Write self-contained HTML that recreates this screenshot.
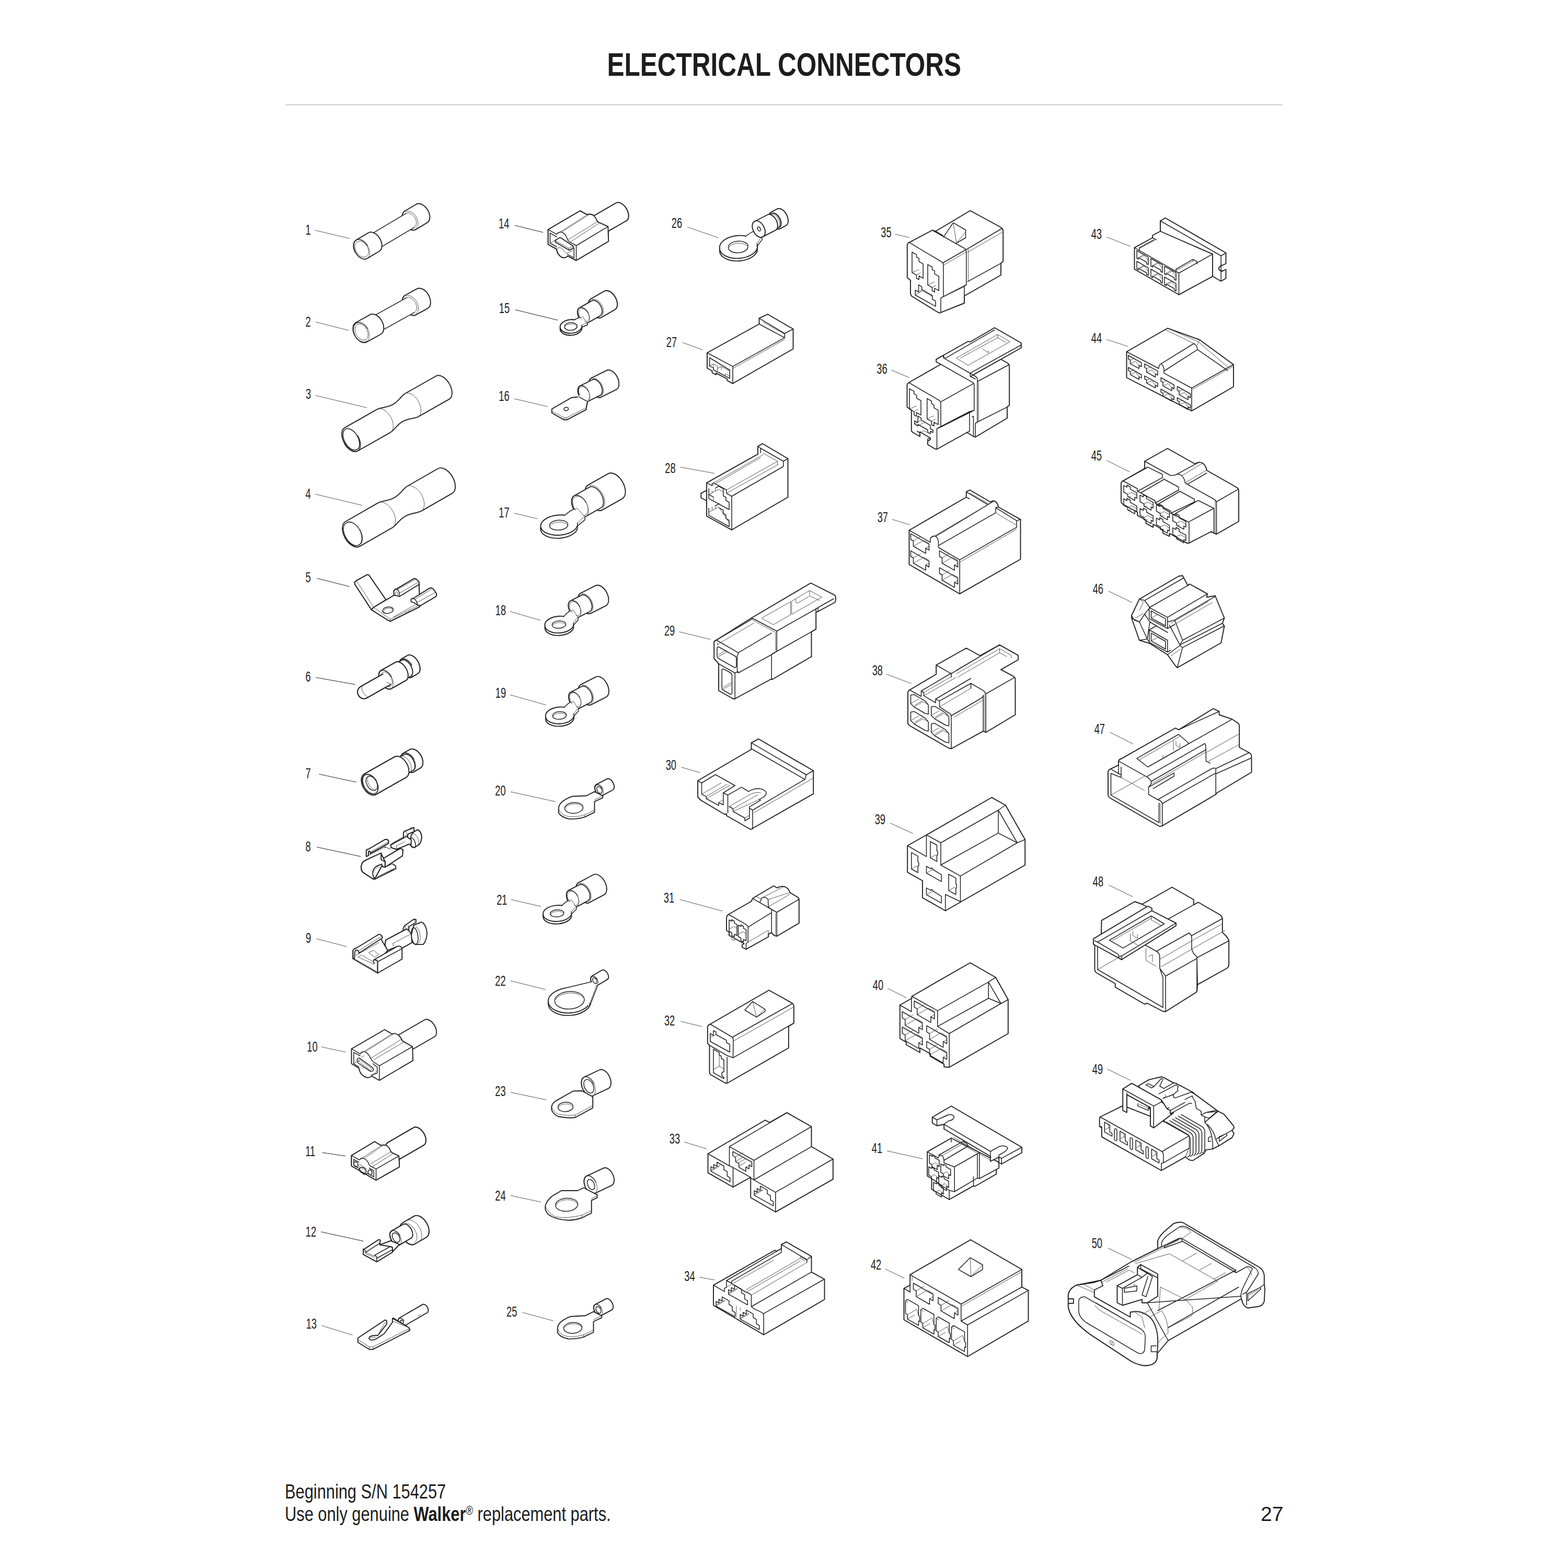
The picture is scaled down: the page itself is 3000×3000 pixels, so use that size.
<!DOCTYPE html>
<html lang="en">
<head>
<meta charset="utf-8">
<title>Electrical Connectors</title>
<style>
html,body{margin:0;padding:0;background:#fff;}
body{width:3000px;height:3000px;position:relative;overflow:hidden;font-family:"Liberation Sans",sans-serif;color:#1d1d1d;}
h1{position:absolute;left:0;top:92.2px;width:3001.5px;margin:0;text-align:center;font-size:62.6px;line-height:1;font-weight:bold;white-space:nowrap;}
h1 span{display:inline-block;transform:scaleX(0.791);transform-origin:50% 50%;}
hr{position:absolute;left:546px;top:199.7px;width:1908px;height:1.4px;margin:0;border:0;background:#a6a6a6;}
.foot{position:absolute;left:544.9px;top:2832px;font-size:38.7px;line-height:43px;white-space:nowrap;transform:scaleX(0.796);transform-origin:0 0;}
.pg{position:absolute;right:544.6px;top:2875px;font-size:39px;line-height:43px;white-space:nowrap;}
sup{font-size:60%;line-height:0;vertical-align:baseline;position:relative;top:-0.5em;}
svg{position:absolute;left:0;top:0;}
svg path{fill:none;stroke:#222;stroke-linecap:round;stroke-linejoin:round;}
.k{stroke-width:1.5;}
.kf{stroke-width:1.9;fill:#fff;}
.t{stroke-width:0.9;stroke:#444;}
.tf{stroke-width:0.9;stroke:#444;fill:#fff;}
.w{fill:#fff;stroke:none;}
.l{stroke-width:1;stroke:#555;}
svg path.kf,svg path.tf,svg path.w{fill:#fff;}
svg path.w{stroke:none;}
svg path.t,svg path.tf{stroke:#444;}
svg path.l{stroke:#555;}
svg text{font-family:"Liberation Sans",sans-serif;font-size:28.5px;fill:#222;text-anchor:middle;}
</style>
</head>
<body>
<h1><span>ELECTRICAL CONNECTORS</span></h1>
<hr>
<svg width="3000" height="3000" viewBox="0 0 3000 3000" xmlns="http://www.w3.org/2000/svg">
<g id="art">
<path class="kf" d="M774.5 403.8L796.6 390.7A20.5 13.3 59.2 0 1 817.6 425.9L795.5 439.1A20.5 13.3 59.2 0 1 774.5 403.8Z"/>
<path class="k" d="M774.5 403.8A20.5 13.3 59.2 0 0 795.5 439.1"/>
<path class="t" d="M795.5 437A18.7 12.1 59.2 0 0 776.3 404.9"/>
<path class="w" d="M707.5 449.6L777.1 408.1A15.5 10.1 59.2 0 1 793 434.8L723.4 476.2A15.5 10.1 59.2 0 1 707.5 449.6Z"/>
<path class="k" d="M723.4 476.2L793 434.8M707.5 449.6L777.1 408.1"/>
<path class="t" d="M793 434.8A15.5 10.1 59.2 0 0 777.1 408.1"/>
<path class="kf" d="M681.3 459.4L705 445.3A20.5 13.3 59.2 0 1 726 480.5L702.3 494.6A20.5 13.3 59.2 0 1 681.3 459.4Z"/>
<path class="k" d="M703.3 470.2A20.5 13.3 59.2 0 0 680.4 483.8"/>
<path class="t" d="M680.4 483.8A20.5 13.3 59.2 0 0 703.3 470.2M700.5 490.6A16.2 10.5 59.2 1 0 684 462.9A16.2 10.5 59.2 1 0 700.5 490.6Z"/>
<path class="l" d="M602.8 440.5L668.7 456.3"/>
<path class="kf" d="M775.1 565L797.5 552.7A21.3 13.9 61.1 0 1 818.1 590.1L795.8 602.4A21.3 13.9 61.1 0 1 775.1 565Z"/>
<path class="k" d="M775.1 565A21.3 13.9 61.1 0 0 795.8 602.4"/>
<path class="t" d="M795.8 600.3A19.5 12.7 61.1 0 0 776.9 566.2"/>
<path class="w" d="M710.6 606.8L777.7 569.7A16 10.4 61.1 0 1 793.2 597.7L726.1 634.8A16 10.4 61.1 0 1 710.6 606.8Z"/>
<path class="k" d="M726.1 634.8L793.2 597.7M710.6 606.8L777.7 569.7"/>
<path class="t" d="M793.2 597.7A16 10.4 61.1 0 0 777.7 569.7"/>
<path class="kf" d="M681 617L708 602.1A21.3 13.9 61.1 0 1 728.6 639.5L701.6 654.3A21.3 13.9 61.1 0 1 681 617Z"/>
<path class="k" d="M703.5 629A21.3 13.9 61.1 0 0 679.2 642.4"/>
<path class="t" d="M679.2 642.4A21.3 13.9 61.1 0 0 703.5 629M699.9 650.2A16.8 11 61.1 1 0 683.6 620.7A16.8 11 61.1 1 0 699.9 650.2Z"/>
<path class="l" d="M604.7 616.2L666.7 632"/>
<path class="kf" d="M659 818.6L722 782.9L724.4 782L726.9 781.2L729.4 780.6L732 780L734.6 779.5L737.2 778.9L739.8 778.3L742.3 777.6L744.8 776.9L747.2 776L749.5 774.9L751.8 773.8L754 772.4L756 771L758 769.4L760 767.6L761.9 765.8L763.7 763.9L765.5 762L767.3 760L769.1 758.1L771 756.2L772.9 754.5L775 753L834.2 719.5A25.5 14.9 60.5 0 1 859.3 763.9L800.1 797.4L797.8 798.4L795.3 799.1L792.7 799.8L790.1 800.3L787.5 800.9L784.9 801.4L782.4 802L779.8 802.7L777.3 803.5L774.9 804.4L772.6 805.4L770.4 806.5L768.2 807.9L766.1 809.3L764.1 810.9L762.2 812.7L760.3 814.5L758.5 816.4L756.6 818.3L754.8 820.3L753 822.2L751.1 824.1L749.2 825.8L747.1 827.3L684 863A25.5 14.9 60.5 0 1 659 818.6Z"/>
<path class="t" d="M747.1 827.3A25.5 14.9 60.5 0 0 722 782.9M800.1 797.4A25.5 14.9 60.5 0 0 775 753"/>
<path class="k" d="M658.5 848.2A25.5 14.9 60.5 0 0 684.5 833.5M683.1 860A22.3 13.1 60.5 1 0 661.1 821.1A22.3 13.1 60.5 1 0 683.1 860Z"/>
<path class="l" d="M603.8 756.7L701.7 780"/>
<path class="kf" d="M660.9 998L723.8 961.9L726.3 960.9L728.9 960L731.5 959.4L734.2 958.7L736.9 958.1L739.5 957.5L742.2 956.8L744.8 956.1L747.4 955.2L749.9 954.3L752.3 953.2L754.6 952L756.9 950.6L759 949L761.1 947.4L763.1 945.6L765.1 943.7L767 941.8L768.9 939.8L770.8 937.7L772.7 935.8L774.6 933.8L776.6 932L778.8 930.5L838.1 896.5A27.3 16.1 60.2 0 1 865.2 943.9L806 977.9L803.5 978.9L800.9 979.7L798.3 980.5L795.6 981.1L792.9 981.7L790.2 982.3L787.6 983L785 983.7L782.4 984.5L779.9 985.5L777.5 986.6L775.2 987.8L772.9 989.2L770.8 990.8L768.7 992.4L766.6 994.2L764.7 996.1L762.8 998L760.9 1000L759 1002.1L757.1 1004L755.1 1006L753.1 1007.8L751 1009.4L688.1 1045.4A27.3 16.1 60.2 0 1 660.9 998Z"/>
<path class="t" d="M751 1009.4A27.3 16.1 60.2 0 0 723.8 961.9M806 977.9A27.3 16.1 60.2 0 0 778.8 930.5"/>
<path class="k" d="M660.6 1029.6A27.3 16.1 60.2 0 0 688.4 1013.7M687.1 1042.3A24.2 14.2 60.2 1 0 663.1 1000.4A24.2 14.2 60.2 1 0 687.1 1042.3Z"/>
<path class="l" d="M603.3 945.5L692.2 966.7"/>
<path class="kf" d="M710.8 1166.7L679.2 1118.3L678.3 1114.2L682 1110.8L702.5 1099.5L705.8 1100.3L738.3 1147.5L715 1162Z"/>
<path class="t" d="M682 1111.3L715 1162"/>
<path class="kf" d="M715 1162L753.3 1139.2L801.7 1118.3L803.3 1160L802.5 1161.2L746.7 1188.7L742.5 1186.7L710.8 1166.7Z"/>
<path class="t" d="M715 1162L746.7 1184.7L801.7 1158.3M746.7 1184.7L746.7 1188.7M753.3 1180.3L794.2 1157.2M776.7 1170.3L777.5 1174.3M782.5 1168L783.3 1171.7"/>
<path class="k" d="M731.9 1168.9A10.3 6 -8 1 1 752.4 1166.1A10.3 6 -8 1 1 731.9 1168.9Z"/>
<path class="t" d="M735.6 1172A8.7 4.7 -8 1 1 751 1166.7"/>
<path class="kf" d="M754.2 1138.7L753.3 1131.7Q754.2 1128 758 1127.3L791.7 1107.2Q795.3 1106.7 797.5 1109.2L801.7 1113.7L801.7 1118.3L764.2 1141.2Z"/>
<path class="t" d="M760 1128.3L795 1108.3M764.2 1135L799.7 1114.2M756.7 1138.3L756.7 1133.7Q758.7 1131 761 1133.7L761 1139.7"/>
<path class="k" d="M764.2 1141.2L764.2 1135.3Q763.3 1129.2 758 1127.3"/>
<path class="kf" d="M786.7 1151.3L786.3 1147.5Q787 1144.7 790.3 1145L822.5 1125Q827 1124.2 830 1128.3L835 1135.8Q836 1139.3 833.3 1141.7L804.2 1158.7L798.3 1157.5L793.3 1153.7Z"/>
<path class="k" d="M790.3 1145Q795.3 1146.7 797.7 1152.7L798.3 1157.5"/>
<path class="t" d="M793.3 1147L825.8 1127M786.7 1151.3L794.2 1153.7M797.7 1152.7L833.3 1133.3"/>
<path class="l" d="M607 1106.7L668 1122"/>
<path class="kf" d="M768 1260.8L779.9 1254A20 11.6 60.5 0 1 799.6 1288.8L787.7 1295.6A20 11.6 60.5 0 1 768 1260.8Z"/>
<path class="k" d="M787.9 1272.5A20 11.6 60.5 0 0 767.7 1283.9"/>
<path class="t" d="M770.7 1259.6A20 11.6 60.5 0 0 790.1 1293.8"/>
<path class="kf" d="M758.2 1269L769.1 1262.8A17.7 10.2 60.5 0 1 786.5 1293.5L775.6 1299.7A17.7 10.2 60.5 0 1 758.2 1269Z"/>
<path class="t" d="M762.5 1265.5A18.7 10.8 60.5 0 0 780.8 1297.9"/>
<path class="kf" d="M728.8 1282.9L757.1 1266.9A20 11.6 60.5 0 1 776.8 1301.7L748.5 1317.7A20 11.6 60.5 0 1 728.8 1282.9Z"/>
<path class="k" d="M748.8 1294.6A20 11.6 60.5 0 0 728.6 1306"/>
<path class="t" d="M728.6 1306A20 11.6 60.5 0 0 748.8 1294.6M747.4 1313A15.3 8.9 60.5 1 0 732.3 1286.3A15.3 8.9 60.5 1 0 747.4 1313Z"/>
<path class="kf" d="M732.6 1289.6L690.5 1313.4C676.2 1321.5 688.4 1343 702.7 1334.9L747.6 1309.4"/>
<path class="t" d="M694.4 1311.3A12.3 7.1 60.5 0 0 703.1 1332.7M740 1305L746.7 1308.3L743.3 1314.2"/>
<path class="l" d="M604.7 1296.3L679.2 1309.5"/>
<path class="kf" d="M710.8 1166.7L679.2 1118.3L678.3 1114.2L682 1110.8L702.5 1099.5L705.8 1100.3L738.3 1147.5L715 1162Z"/>
<path class="t" d="M682 1111.3L715 1162"/>
<path class="kf" d="M715 1162L753.3 1139.2L801.7 1118.3L803.3 1160L802.5 1161.2L746.7 1188.7L742.5 1186.7L710.8 1166.7Z"/>
<path class="t" d="M715 1162L746.7 1184.7L801.7 1158.3M746.7 1184.7L746.7 1188.7M753.3 1180.3L794.2 1157.2M776.7 1170.3L777.5 1174.3M782.5 1168L783.3 1171.7"/>
<path class="k" d="M731.9 1168.9A10.3 6 -8 1 1 752.4 1166.1A10.3 6 -8 1 1 731.9 1168.9Z"/>
<path class="t" d="M735.6 1172A8.7 4.7 -8 1 1 751 1166.7"/>
<path class="kf" d="M754.2 1138.7L753.3 1131.7Q754.2 1128 758 1127.3L791.7 1107.2Q795.3 1106.7 797.5 1109.2L801.7 1113.7L801.7 1118.3L764.2 1141.2Z"/>
<path class="t" d="M760 1128.3L795 1108.3M764.2 1135L799.7 1114.2M756.7 1138.3L756.7 1133.7Q758.7 1131 761 1133.7L761 1139.7"/>
<path class="k" d="M764.2 1141.2L764.2 1135.3Q763.3 1129.2 758 1127.3"/>
<path class="kf" d="M786.7 1151.3L786.3 1147.5Q787 1144.7 790.3 1145L822.5 1125Q827 1124.2 830 1128.3L835 1135.8Q836 1139.3 833.3 1141.7L804.2 1158.7L798.3 1157.5L793.3 1153.7Z"/>
<path class="k" d="M790.3 1145Q795.3 1146.7 797.7 1152.7L798.3 1157.5"/>
<path class="t" d="M793.3 1147L825.8 1127M786.7 1151.3L794.2 1153.7M797.7 1152.7L833.3 1133.3"/>
<path class="l" d="M607 1106.7L668 1122"/>
<path class="kf" d="M768 1260.8L779.9 1254A20 11.6 60.5 0 1 799.6 1288.8L787.7 1295.6A20 11.6 60.5 0 1 768 1260.8Z"/>
<path class="k" d="M787.9 1272.5A20 11.6 60.5 0 0 767.7 1283.9"/>
<path class="t" d="M770.7 1259.6A20 11.6 60.5 0 0 790.1 1293.8"/>
<path class="kf" d="M758.2 1269L769.1 1262.8A17.7 10.2 60.5 0 1 786.5 1293.5L775.6 1299.7A17.7 10.2 60.5 0 1 758.2 1269Z"/>
<path class="t" d="M762.5 1265.5A18.7 10.8 60.5 0 0 780.8 1297.9"/>
<path class="kf" d="M728.8 1282.9L757.1 1266.9A20 11.6 60.5 0 1 776.8 1301.7L748.5 1317.7A20 11.6 60.5 0 1 728.8 1282.9Z"/>
<path class="k" d="M748.8 1294.6A20 11.6 60.5 0 0 728.6 1306"/>
<path class="t" d="M728.6 1306A20 11.6 60.5 0 0 748.8 1294.6M747.4 1313A15.3 8.9 60.5 1 0 732.3 1286.3A15.3 8.9 60.5 1 0 747.4 1313Z"/>
<path class="kf" d="M732.6 1289.6L690.5 1313.4C676.2 1321.5 688.4 1343 702.7 1334.9L747.6 1309.4"/>
<path class="t" d="M694.4 1311.3A12.3 7.1 60.5 0 0 703.1 1332.7M740 1305L746.7 1308.3L743.3 1314.2"/>
<path class="l" d="M604.7 1296.3L679.2 1309.5"/>
<path class="kf" d="M771.2 1441.3L784.3 1434A20.3 12.6 60.5 0 1 804.3 1469.4L791.3 1476.8A20.3 12.6 60.5 0 1 771.2 1441.3Z"/>
<path class="k" d="M792.2 1452.8A20.3 12.6 60.5 0 0 770.3 1465.3"/>
<path class="t" d="M791.3 1474.1A18 11.2 60.5 0 0 773.5 1442.7"/>
<path class="kf" d="M758.1 1452L772.6 1443.8A17.5 10.8 60.5 0 1 789.9 1474.3L775.4 1482.5A17.5 10.8 60.5 0 1 758.1 1452Z"/>
<path class="t" d="M784 1478.8A18.7 11.6 60.5 0 0 765.7 1446.5M775.2 1488.2A22.5 14 60.5 0 0 753.1 1449.2"/>
<path class="kf" d="M696.9 1480.9L755.7 1447.7A22.5 14 60.5 0 1 777.8 1486.8L719.1 1520.1A22.5 14 60.5 0 1 696.9 1480.9Z"/>
<path class="k" d="M720.1 1493.6A22.5 14 60.5 0 0 695.9 1507.4"/>
<path class="t" d="M695.9 1507.4A22.5 14 60.5 0 0 720.1 1493.6"/>
<path class="k" d="M718.7 1517.8A20.3 12.6 60.5 1 0 698.7 1482.4A20.3 12.6 60.5 1 0 718.7 1517.8ZM718.4 1511.5A14.7 9.1 60.5 1 0 704 1485.9A14.7 9.1 60.5 1 0 718.4 1511.5Z"/>
<path class="t" d="M704.3 1486.8A14.7 9.1 60.5 0 0 716.1 1510.5"/>
<path class="l" d="M610.8 1481.2L680.8 1496.3"/>
<path class="kf" d="M786.7 1598.3L791.7 1591.7L798.7 1587.5Q805.3 1590 806.7 1600Q806.7 1608.7 802.5 1615.3L793.3 1621.3Q786.7 1621.7 785 1615Z"/>
<path class="k" d="M785.3 1614.1A4.7 8.3 -20 1 1 794 1610.9A4.7 8.3 -20 1 1 785.3 1614.1Z"/>
<path class="t" d="M790.2 1594.7A6.7 12.5 -20 0 1 798.6 1617.8"/>
<path class="kf" d="M771.7 1595Q772.5 1590 777.5 1589.2L791.7 1583.3L792.5 1590.8L780.3 1595.8L779.7 1602.5L772.5 1605Z"/>
<path class="t" d="M777.5 1589.2L778.3 1595M785 1584.2L785.3 1587.5M786.7 1583.3L787 1587"/>
<path class="kf" d="M747.5 1616.7L778.3 1600L780.3 1602.5L786.7 1606.7L786.7 1615Q780 1615 775 1618.3L758.3 1625L748.3 1621.7Z"/>
<path class="t" d="M749.2 1614.2L779.2 1596.7M758.3 1618.3L775 1610.3M758.3 1618.3L758.3 1625"/>
<path class="kf" d="M700.8 1638.7L700.8 1627.5Q701.7 1624.7 705 1624.7L736.7 1606.2Q741 1605.3 743.3 1608.7L743.3 1613.7L708.7 1632.7L708.7 1630Q707.7 1627.7 705 1629L704.7 1637Z"/>
<path class="t" d="M708.7 1630L743.3 1610.8M704.7 1636.7L736.7 1620L746.7 1625M736.7 1620L736.7 1622.5"/>
<path class="kf" d="M729.2 1645L765.8 1623.3L770.8 1625.3L770 1637.5L736.7 1659.2L736.7 1648.3L730.3 1648.7Z"/>
<path class="t" d="M729.2 1645Q732.5 1643.7 736.7 1648.3"/>
<path class="kf" d="M698.7 1646.3L729.2 1633.3L736.7 1648.3L736.7 1659.2L730 1657.5L716.7 1681.7Q714.7 1682.7 711.7 1680.3L694.2 1668.7Q688.7 1661.7 692.8 1652Q695 1648.3 698.7 1646.3Z"/>
<path class="kf" d="M698.7 1646.3L729.2 1632L729.2 1645L736.7 1648.3L736.7 1659.2L732.5 1658L730 1653.3L720 1657.5Q711.7 1663.3 713.3 1673.3Q714.7 1680 718.3 1681.7Q714.7 1682.7 711.7 1680.3L694.2 1668.7Q688.7 1661.7 692.8 1652Q695 1648.3 698.7 1646.3Z"/>
<path class="k" d="M718.3 1681.7L757.5 1662L757 1656.7L751.7 1653.3"/>
<path class="t" d="M720.8 1678.3L754.2 1661.7M730 1653.3L730 1657.5L736.7 1659.2L751.7 1652.5M715 1668.3Q716.7 1661.7 725 1658.3"/>
<path class="l" d="M606.7 1620.8L690 1638.7"/>
<path class="kf" d="M771.2 1441.3L784.3 1434A20.3 12.6 60.5 0 1 804.3 1469.4L791.3 1476.8A20.3 12.6 60.5 0 1 771.2 1441.3Z"/>
<path class="k" d="M792.2 1452.8A20.3 12.6 60.5 0 0 770.3 1465.3"/>
<path class="t" d="M791.3 1474.1A18 11.2 60.5 0 0 773.5 1442.7"/>
<path class="kf" d="M758.1 1452L772.6 1443.8A17.5 10.8 60.5 0 1 789.9 1474.3L775.4 1482.5A17.5 10.8 60.5 0 1 758.1 1452Z"/>
<path class="t" d="M784 1478.8A18.7 11.6 60.5 0 0 765.7 1446.5M775.2 1488.2A22.5 14 60.5 0 0 753.1 1449.2"/>
<path class="kf" d="M696.9 1480.9L755.7 1447.7A22.5 14 60.5 0 1 777.8 1486.8L719.1 1520.1A22.5 14 60.5 0 1 696.9 1480.9Z"/>
<path class="k" d="M720.1 1493.6A22.5 14 60.5 0 0 695.9 1507.4"/>
<path class="t" d="M695.9 1507.4A22.5 14 60.5 0 0 720.1 1493.6"/>
<path class="k" d="M718.7 1517.8A20.3 12.6 60.5 1 0 698.7 1482.4A20.3 12.6 60.5 1 0 718.7 1517.8ZM718.4 1511.5A14.7 9.1 60.5 1 0 704 1485.9A14.7 9.1 60.5 1 0 718.4 1511.5Z"/>
<path class="t" d="M704.3 1486.8A14.7 9.1 60.5 0 0 716.1 1510.5"/>
<path class="l" d="M610.8 1481.2L680.8 1496.3"/>
<path class="kf" d="M786.7 1598.3L791.7 1591.7L798.7 1587.5Q805.3 1590 806.7 1600Q806.7 1608.7 802.5 1615.3L793.3 1621.3Q786.7 1621.7 785 1615Z"/>
<path class="k" d="M785.3 1614.1A4.7 8.3 -20 1 1 794 1610.9A4.7 8.3 -20 1 1 785.3 1614.1Z"/>
<path class="t" d="M790.2 1594.7A6.7 12.5 -20 0 1 798.6 1617.8"/>
<path class="kf" d="M771.7 1595Q772.5 1590 777.5 1589.2L791.7 1583.3L792.5 1590.8L780.3 1595.8L779.7 1602.5L772.5 1605Z"/>
<path class="t" d="M777.5 1589.2L778.3 1595M785 1584.2L785.3 1587.5M786.7 1583.3L787 1587"/>
<path class="kf" d="M747.5 1616.7L778.3 1600L780.3 1602.5L786.7 1606.7L786.7 1615Q780 1615 775 1618.3L758.3 1625L748.3 1621.7Z"/>
<path class="t" d="M749.2 1614.2L779.2 1596.7M758.3 1618.3L775 1610.3M758.3 1618.3L758.3 1625"/>
<path class="kf" d="M700.8 1638.7L700.8 1627.5Q701.7 1624.7 705 1624.7L736.7 1606.2Q741 1605.3 743.3 1608.7L743.3 1613.7L708.7 1632.7L708.7 1630Q707.7 1627.7 705 1629L704.7 1637Z"/>
<path class="t" d="M708.7 1630L743.3 1610.8M704.7 1636.7L736.7 1620L746.7 1625M736.7 1620L736.7 1622.5"/>
<path class="kf" d="M729.2 1645L765.8 1623.3L770.8 1625.3L770 1637.5L736.7 1659.2L736.7 1648.3L730.3 1648.7Z"/>
<path class="t" d="M729.2 1645Q732.5 1643.7 736.7 1648.3"/>
<path class="kf" d="M698.7 1646.3L729.2 1633.3L736.7 1648.3L736.7 1659.2L730 1657.5L716.7 1681.7Q714.7 1682.7 711.7 1680.3L694.2 1668.7Q688.7 1661.7 692.8 1652Q695 1648.3 698.7 1646.3Z"/>
<path class="kf" d="M698.7 1646.3L729.2 1632L729.2 1645L736.7 1648.3L736.7 1659.2L732.5 1658L730 1653.3L720 1657.5Q711.7 1663.3 713.3 1673.3Q714.7 1680 718.3 1681.7Q714.7 1682.7 711.7 1680.3L694.2 1668.7Q688.7 1661.7 692.8 1652Q695 1648.3 698.7 1646.3Z"/>
<path class="k" d="M718.3 1681.7L757.5 1662L757 1656.7L751.7 1653.3"/>
<path class="t" d="M720.8 1678.3L754.2 1661.7M730 1653.3L730 1657.5L736.7 1659.2L751.7 1652.5M715 1668.3Q716.7 1661.7 725 1658.3"/>
<path class="l" d="M606.7 1620.8L690 1638.7"/>
<path class="kf" d="M791.7 1770L806.7 1764.2Q815 1768.3 817 1785Q816.7 1798.3 810 1806.7L794.2 1807Q786.7 1803.3 786.7 1790Z"/>
<path class="k" d="M787.1 1791.7A6.3 15.8 -8 1 1 799.6 1790A6.3 15.8 -8 1 1 787.1 1791.7Z"/>
<path class="t" d="M795.9 1773.5A6.3 15.8 -8 0 1 800.2 1804.7"/>
<path class="kf" d="M770.8 1783.3Q770.8 1771.7 777.5 1768.7L791.7 1758.7L795.8 1759.3L795.8 1764.7L782.5 1773L781.7 1786.7L775 1790Z"/>
<path class="t" d="M777.5 1768.7Q774.2 1773.3 774.7 1785M780.8 1770L781.3 1777.5M792.5 1760L793 1763.7"/>
<path class="kf" d="M738.3 1798.3L778.3 1777.5L781.7 1780L786.7 1786.7L788.3 1803.3L769.2 1814.2L760 1810.8L741.7 1818.3L735.8 1810Z"/>
<path class="t" d="M740 1796.7L778.3 1776.3M751.7 1805L786.7 1786.7M751.7 1805L752.5 1810.8"/>
<path class="k" d="M741.7 1818.3Q734.2 1808.3 738.3 1798.3"/>
<path class="kf" d="M675.3 1818.3L725 1790L741.7 1818.3L722.5 1840L722.5 1861.7L675.3 1834.2Z"/>
<path class="t" d="M680 1828.3L725 1803.3M679.2 1835L720 1858.3M685 1830.8L692.5 1827.5L715 1840.8L715 1844.2ZM705.8 1822.5L714.2 1818.3L725 1826.7L717.5 1831.3Z"/>
<path class="kf" d="M675.3 1820Q676 1814.7 681.3 1814.3L725 1787.5Q730.3 1788 732 1794.2L686.7 1823.7Q686.7 1817.5 681.3 1817.7Q678.3 1818.3 678.3 1833.3L675.3 1834.2Z"/>
<path class="t" d="M678.3 1820L678.3 1835M685 1820L729.2 1791.7"/>
<path class="kf" d="M722.5 1840Q720.8 1835.8 715 1836.7L760 1810.8Q766.7 1808.3 769.2 1815L769.2 1835L722.5 1861.7Z"/>
<path class="k" d="M722.5 1840L769.2 1815M715 1836.7Q713.3 1839.2 716.7 1843.3"/>
<path class="l" d="M605.8 1796.2L662.5 1810.8"/>
<path class="kf" d="M764.7 1978.8L812.3 1951.3A18.7 11.2 60 0 1 831 1983.7L783.3 2011.2A18.7 11.2 60 0 1 764.7 1978.8Z"/>
<path class="kf" d="M672.5 2006.7L735.8 1970L750 1978.3Q755 1975.8 761.7 1980Q767.5 1985 770 1991.7L789.2 2002.5L790 2029.2L725.8 2067L710.8 2058.7Q708.3 2062 701.7 2061.7Q689.2 2058.3 686.7 2043.7L672.5 2035Z"/>
<path class="k" d="M725.8 2039.2L789.2 2002.5M725.8 2039.2L725.8 2067M672.5 2006.7L689.2 2016.3Q692.5 2010.8 698.3 2012.5Q705 2015 709.2 2025Q710.8 2028.3 715 2032L725.8 2039.2"/>
<path class="t" d="M689.2 2016.3L750 1978.3M698.3 2012.5L755 1976.7M715 2027.5L771.7 1994.2M709.2 2025L768.3 1988.3"/>
<path class="k" d="M676.7 2013.7L676.7 2035L686.7 2041.7M710.8 2056.7L721.7 2053.3L721.7 2041.7L713.3 2035M676.7 2013.7L689.2 2020"/>
<path class="t" d="M676.7 2035L686.7 2029.2M710.8 2058.7L721.7 2048.3M693.3 2043.3Q698.3 2040 703.3 2046.7"/>
<path class="k" d="M683.3 2028.3Q683.3 2024.2 687.5 2024.2L711.7 2041.7Q715.8 2045 714.2 2048.3Q711.7 2050.8 707.5 2049.2L686.7 2035Q683.3 2032.5 683.3 2028.3Z"/>
<path class="t" d="M686.7 2029.2Q686.7 2027.5 688.7 2027.5L710 2043.3Q712.5 2045.3 710.8 2047Q709.2 2048 707 2046.7L688 2032.5Q686.7 2031.3 686.7 2029.2ZM692.5 2022.5L696.7 2020"/>
<path class="l" d="M615.5 2003L660.8 2013"/>
<path class="kf" d="M742.2 2185.9L791.2 2157.6A19.3 11.6 60 0 1 810.6 2191.1L761.5 2219.4A19.3 11.6 60 0 1 742.2 2185.9Z"/>
<path class="kf" d="M672.5 2210.8L716.7 2184.2L729.2 2191.7Q734.2 2189.2 740.8 2192.5Q745 2195.8 747.5 2202.5Q749.2 2205.8 752.5 2206.7L763.3 2211.7L764.2 2232.5L719.5 2258L672.5 2230.8Z"/>
<path class="k" d="M719.5 2236.7L763.3 2211.7M719.5 2236.7L719.5 2258M672.5 2210.8L687.5 2219.2Q691.7 2214.2 696.7 2216.7Q703.3 2220 706.7 2229.2Q708.3 2231.7 711.7 2232.5L719.5 2236.7"/>
<path class="t" d="M687.5 2219.2L729.2 2191.7M696.7 2216.3L735 2190M709.2 2226.7L748.3 2203.3M711.7 2232.5L752.5 2206.7"/>
<path class="k" d="M676.7 2218.3L676.7 2229.2L686.7 2235Q690 2243.3 696.7 2246.7L703.3 2245L715 2251.7L715 2240L706.7 2235M676.7 2218.3L686.7 2223.7M677.4 2228.8A3.7 4.7 -20 1 1 684.3 2226.2A3.7 4.7 -20 1 1 677.4 2228.8ZM704.5 2244.2A3.7 4.7 -20 1 1 711.5 2241.8A3.7 4.7 -20 1 1 704.5 2244.2ZM691 2243A5 6.7 -50 1 1 697.4 2235.3A5 6.7 -50 1 1 691 2243Z"/>
<path class="t" d="M686.7 2226.7L701.7 2236.7M685 2230L703.3 2241.7"/>
<path class="l" d="M616.7 2205.3L660.8 2211.7"/>
<path class="kf" d="M770 2339.8L792.4 2326.9A23.3 14 60 0 1 815.7 2367.3L793.3 2380.2A23.3 14 60 0 1 770 2339.8Z"/>
<path class="k" d="M770 2339.8A23.3 14 60 0 0 793.3 2380.2"/>
<path class="t" d="M793.3 2376.8A20.3 12.2 60 0 0 773 2341.6M803 2374.5A23.3 14 60 0 0 779.8 2334.3"/>
<path class="kf" d="M749.3 2355.1L771 2342.6A15.3 9.2 60 0 1 786.3 2369.1L764.7 2381.6A15.3 9.2 60 0 1 749.3 2355.1Z"/>
<path class="k" d="M765 2363.7A15.3 9.2 60 0 0 749 2372.9"/>
<path class="t" d="M749 2372.9A15.3 9.2 60 0 0 765 2363.7"/>
<path class="k" d="M762.7 2376.2A9.7 5.8 60 1 0 753 2359.5A9.7 5.8 60 1 0 762.7 2376.2Z"/>
<path class="kf" d="M726.7 2381.7L747.5 2374.2L764.2 2380.8L750.8 2395L750.8 2386.7L746.7 2385L727.5 2395Z"/>
<path class="kf" d="M695 2390L695.8 2390.8L724.2 2372Q727.5 2371.3 727.5 2374.2L726.7 2378.3L726.7 2381.7L746.7 2385Q750.8 2385.8 750.8 2388.7L750.8 2395.8L720.8 2414.2L695 2400Z"/>
<path class="k" d="M695.8 2390.8Q699.2 2390.8 700 2395.8L726.7 2378.3M716.7 2401.7L746.7 2385M716.7 2401.7Q720.8 2402.5 720.8 2407.5L720.8 2414.2M720.8 2407.5L750.8 2390.8"/>
<path class="t" d="M700 2395.8L700 2399.2L716.7 2405.3M696.7 2395L717.5 2403.3"/>
<path class="l" d="M614.7 2357L695 2374.5"/>
<path class="kf" d="M742.2 2185.9L791.2 2157.6A19.3 11.6 60 0 1 810.6 2191.1L761.5 2219.4A19.3 11.6 60 0 1 742.2 2185.9Z"/>
<path class="kf" d="M672.5 2210.8L716.7 2184.2L729.2 2191.7Q734.2 2189.2 740.8 2192.5Q745 2195.8 747.5 2202.5Q749.2 2205.8 752.5 2206.7L763.3 2211.7L764.2 2232.5L719.5 2258L672.5 2230.8Z"/>
<path class="k" d="M719.5 2236.7L763.3 2211.7M719.5 2236.7L719.5 2258M672.5 2210.8L687.5 2219.2Q691.7 2214.2 696.7 2216.7Q703.3 2220 706.7 2229.2Q708.3 2231.7 711.7 2232.5L719.5 2236.7"/>
<path class="t" d="M687.5 2219.2L729.2 2191.7M696.7 2216.3L735 2190M709.2 2226.7L748.3 2203.3M711.7 2232.5L752.5 2206.7"/>
<path class="k" d="M676.7 2218.3L676.7 2229.2L686.7 2235Q690 2243.3 696.7 2246.7L703.3 2245L715 2251.7L715 2240L706.7 2235M676.7 2218.3L686.7 2223.7M677.4 2228.8A3.7 4.7 -20 1 1 684.3 2226.2A3.7 4.7 -20 1 1 677.4 2228.8ZM704.5 2244.2A3.7 4.7 -20 1 1 711.5 2241.8A3.7 4.7 -20 1 1 704.5 2244.2ZM691 2243A5 6.7 -50 1 1 697.4 2235.3A5 6.7 -50 1 1 691 2243Z"/>
<path class="t" d="M686.7 2226.7L701.7 2236.7M685 2230L703.3 2241.7"/>
<path class="l" d="M616.7 2205.3L660.8 2211.7"/>
<path class="kf" d="M770 2339.8L792.4 2326.9A23.3 14 60 0 1 815.7 2367.3L793.3 2380.2A23.3 14 60 0 1 770 2339.8Z"/>
<path class="k" d="M770 2339.8A23.3 14 60 0 0 793.3 2380.2"/>
<path class="t" d="M793.3 2376.8A20.3 12.2 60 0 0 773 2341.6M803 2374.5A23.3 14 60 0 0 779.8 2334.3"/>
<path class="kf" d="M749.3 2355.1L771 2342.6A15.3 9.2 60 0 1 786.3 2369.1L764.7 2381.6A15.3 9.2 60 0 1 749.3 2355.1Z"/>
<path class="k" d="M765 2363.7A15.3 9.2 60 0 0 749 2372.9"/>
<path class="t" d="M749 2372.9A15.3 9.2 60 0 0 765 2363.7"/>
<path class="k" d="M762.7 2376.2A9.7 5.8 60 1 0 753 2359.5A9.7 5.8 60 1 0 762.7 2376.2Z"/>
<path class="kf" d="M726.7 2381.7L747.5 2374.2L764.2 2380.8L750.8 2395L750.8 2386.7L746.7 2385L727.5 2395Z"/>
<path class="kf" d="M695 2390L695.8 2390.8L724.2 2372Q727.5 2371.3 727.5 2374.2L726.7 2378.3L726.7 2381.7L746.7 2385Q750.8 2385.8 750.8 2388.7L750.8 2395.8L720.8 2414.2L695 2400Z"/>
<path class="k" d="M695.8 2390.8Q699.2 2390.8 700 2395.8L726.7 2378.3M716.7 2401.7L746.7 2385M716.7 2401.7Q720.8 2402.5 720.8 2407.5L720.8 2414.2M720.8 2407.5L750.8 2390.8"/>
<path class="t" d="M700 2395.8L700 2399.2L716.7 2405.3M696.7 2395L717.5 2403.3"/>
<path class="l" d="M614.7 2357L695 2374.5"/>
<path class="kf" d="M763.8 2521.7L808.5 2495.9A9 5.4 60 0 1 817.5 2511.5L772.8 2537.3A9 5.4 60 0 1 763.8 2521.7Z"/>
<path class="k" d="M772.9 2526.8A9 5.4 60 0 0 763.6 2532.2M770.7 2532.3A3.7 2.2 60 1 0 767 2526A3.7 2.2 60 1 0 770.7 2532.3Z"/>
<path class="t" d="M800.8 2518.3L801.7 2515.8L804.2 2516.3"/>
<path class="kf" d="M684.7 2560L736.7 2525.5L739.7 2526.7L740 2533.3L722.5 2555.3Q711.7 2554.2 706.7 2558.3Q705 2561.7 708.3 2563.3Q713.3 2565 719.2 2562L735 2551.7L750.8 2530L750.8 2522.5L752.5 2521.7L783.3 2540.8L784.2 2545.3L713.7 2581.7L706.7 2581.7L684.7 2568.3Z"/>
<path class="t" d="M684.7 2563.3L706.7 2576.7L714.2 2576.7L781.7 2542.5M706.7 2576.7L706.7 2581.7M714.2 2576.7L713.7 2581.7M781.7 2542.5L782.5 2546.3M750.8 2530L753.3 2528.3L781.7 2540M736.7 2530L722.5 2555.3M708.3 2560Q711.7 2556.7 719.2 2559.2"/>
<path class="k" d="M750.8 2522.5L780 2538.3"/>
<path class="l" d="M615.8 2536.3L674.2 2554.2"/>
<path class="kf" d="M1131.7 415.5L1179.3 388A19.7 11.8 60 0 1 1199 422L1151.3 449.5A19.7 11.8 60 0 1 1131.7 415.5Z"/>
<path class="kf" d="M1048.7 439.2L1110 403.3L1123.3 410.8Q1128.3 408.3 1135 411.7Q1139.2 415 1142 422Q1143.7 425.3 1146.7 425.8L1163.3 433.3L1164.2 461.7L1102.5 498.3L1085.8 489.7Q1082.5 494.2 1075 492.5Q1065.8 486.7 1065 476.7L1048.7 467.5Z"/>
<path class="k" d="M1102.5 470L1163.3 433.3M1102.5 470L1102.5 498.3M1048.7 439.2L1065 448.3Q1068.7 443 1075 444.2Q1082 447 1085.3 457Q1087 462 1090.8 463.3L1102.5 470"/>
<path class="t" d="M1065 448.3L1123.3 410.8M1075 443.8L1129.2 409.2M1087.5 458.3L1143 424.2M1090.8 463.3L1146.7 426.7"/>
<path class="k" d="M1052.5 445.8L1052.5 465L1065 472.5M1052.5 445.8L1065.3 453.3M1085.8 486.7L1098.3 493.3L1098.3 475L1090 469.2"/>
<path class="kf" d="M1061.7 460L1071.7 454.2L1096.7 470.8L1096.7 475L1089.2 478.7L1063.3 463.7Z"/>
<path class="t" d="M1061.7 460L1088.3 475L1096.7 470.8M1088.3 475L1089.2 478.7M1052.5 465L1061.7 460M1066.7 475Q1071.7 471.7 1076.7 476.7Q1080 483.3 1085 485.8M1085 484.2L1096.7 478.7"/>
<path class="l" d="M985.3 431.3L1038.7 444.5"/>
<path class="kf" d="M1130.3 572L1156.3 557A20.3 12.2 60 0 1 1176.6 592.2L1150.7 607.2A20.3 12.2 60 0 1 1130.3 572Z"/>
<path class="k" d="M1130.3 572A20.3 12.2 60 0 0 1150.7 607.2"/>
<path class="t" d="M1150.8 604.8A18.3 11 60 0 0 1132.5 573"/>
<path class="kf" d="M1108.5 589.2L1132.3 575.4A16.3 9.8 60 0 1 1148.7 603.7L1124.8 617.5A16.3 9.8 60 0 1 1108.5 589.2Z"/>
<path class="t" d="M1148.7 603.7A16.3 9.8 60 0 0 1132.3 575.4"/>
<path class="k" d="M1125.2 598.4A16.3 9.8 60 0 0 1108.2 608.2"/>
<path class="t" d="M1108.2 608.2A16.3 9.8 60 0 0 1125.2 598.4M1124.2 614.8A13.7 8.2 60 1 0 1110.5 591.1A13.7 8.2 60 1 0 1124.2 614.8Z"/>
<path class="kf" d="M1071.7 629.8A20.8 13 -4 1 1 1113.3 626.9A20.8 13 -4 1 1 1071.7 629.8Z"/>
<path class="w" d="M1071.7 624.7L1113.3 624.7L1113.3 628.3L1071.7 628.3Z"/>
<path class="k" d="M1071.7 626.1L1071.7 629.8M1113.3 623.2L1113.3 626.9"/>
<path class="kf" d="M1071.7 626.1A20.8 13 -4 1 1 1113.3 623.2A20.8 13 -4 1 1 1071.7 626.1Z"/>
<path class="w" d="M1098.8 612Q1104.2 608.8 1107.9 607.7L1123.6 618L1123.6 621.7L1113.1 625.8L1105 624.7Z"/>
<path class="k" d="M1098.8 612Q1104.2 608.8 1107.9 607.7M1123.6 618L1123.6 621.7L1113.1 625.8L1113.1 622.1"/>
<path class="t" d="M1113.1 622.1L1122.2 618M1108.7 608.2L1114.6 605.7L1122.7 617.2"/>
<path class="k" d="M1080.1 625.5A12 7 -4 1 1 1104 623.8A12 7 -4 1 1 1080.1 625.5Z"/>
<path class="t" d="M1080.7 625.3A12 7 -4 0 1 1103.2 623.7"/>
<path class="l" d="M986.3 592.8L1067 612.5"/>
<path class="kf" d="M1131.7 415.5L1179.3 388A19.7 11.8 60 0 1 1199 422L1151.3 449.5A19.7 11.8 60 0 1 1131.7 415.5Z"/>
<path class="kf" d="M1048.7 439.2L1110 403.3L1123.3 410.8Q1128.3 408.3 1135 411.7Q1139.2 415 1142 422Q1143.7 425.3 1146.7 425.8L1163.3 433.3L1164.2 461.7L1102.5 498.3L1085.8 489.7Q1082.5 494.2 1075 492.5Q1065.8 486.7 1065 476.7L1048.7 467.5Z"/>
<path class="k" d="M1102.5 470L1163.3 433.3M1102.5 470L1102.5 498.3M1048.7 439.2L1065 448.3Q1068.7 443 1075 444.2Q1082 447 1085.3 457Q1087 462 1090.8 463.3L1102.5 470"/>
<path class="t" d="M1065 448.3L1123.3 410.8M1075 443.8L1129.2 409.2M1087.5 458.3L1143 424.2M1090.8 463.3L1146.7 426.7"/>
<path class="k" d="M1052.5 445.8L1052.5 465L1065 472.5M1052.5 445.8L1065.3 453.3M1085.8 486.7L1098.3 493.3L1098.3 475L1090 469.2"/>
<path class="kf" d="M1061.7 460L1071.7 454.2L1096.7 470.8L1096.7 475L1089.2 478.7L1063.3 463.7Z"/>
<path class="t" d="M1061.7 460L1088.3 475L1096.7 470.8M1088.3 475L1089.2 478.7M1052.5 465L1061.7 460M1066.7 475Q1071.7 471.7 1076.7 476.7Q1080 483.3 1085 485.8M1085 484.2L1096.7 478.7"/>
<path class="l" d="M985.3 431.3L1038.7 444.5"/>
<path class="kf" d="M1130.3 572L1156.3 557A20.3 12.2 60 0 1 1176.6 592.2L1150.7 607.2A20.3 12.2 60 0 1 1130.3 572Z"/>
<path class="k" d="M1130.3 572A20.3 12.2 60 0 0 1150.7 607.2"/>
<path class="t" d="M1150.8 604.8A18.3 11 60 0 0 1132.5 573"/>
<path class="kf" d="M1108.5 589.2L1132.3 575.4A16.3 9.8 60 0 1 1148.7 603.7L1124.8 617.5A16.3 9.8 60 0 1 1108.5 589.2Z"/>
<path class="t" d="M1148.7 603.7A16.3 9.8 60 0 0 1132.3 575.4"/>
<path class="k" d="M1125.2 598.4A16.3 9.8 60 0 0 1108.2 608.2"/>
<path class="t" d="M1108.2 608.2A16.3 9.8 60 0 0 1125.2 598.4M1124.2 614.8A13.7 8.2 60 1 0 1110.5 591.1A13.7 8.2 60 1 0 1124.2 614.8Z"/>
<path class="kf" d="M1071.7 629.8A20.8 13 -4 1 1 1113.3 626.9A20.8 13 -4 1 1 1071.7 629.8Z"/>
<path class="w" d="M1071.7 624.7L1113.3 624.7L1113.3 628.3L1071.7 628.3Z"/>
<path class="k" d="M1071.7 626.1L1071.7 629.8M1113.3 623.2L1113.3 626.9"/>
<path class="kf" d="M1071.7 626.1A20.8 13 -4 1 1 1113.3 623.2A20.8 13 -4 1 1 1071.7 626.1Z"/>
<path class="w" d="M1098.8 612Q1104.2 608.8 1107.9 607.7L1123.6 618L1123.6 621.7L1113.1 625.8L1105 624.7Z"/>
<path class="k" d="M1098.8 612Q1104.2 608.8 1107.9 607.7M1123.6 618L1123.6 621.7L1113.1 625.8L1113.1 622.1"/>
<path class="t" d="M1113.1 622.1L1122.2 618M1108.7 608.2L1114.6 605.7L1122.7 617.2"/>
<path class="k" d="M1080.1 625.5A12 7 -4 1 1 1104 623.8A12 7 -4 1 1 1080.1 625.5Z"/>
<path class="t" d="M1080.7 625.3A12 7 -4 0 1 1103.2 623.7"/>
<path class="l" d="M986.3 592.8L1067 612.5"/>
<path class="kf" d="M1131.7 723.1L1160.8 708.6A20.5 12.3 63.5 0 1 1179.1 745.3L1150 759.8A20.5 12.3 63.5 0 1 1131.7 723.1Z"/>
<path class="k" d="M1131.7 723.1A20.5 12.3 63.5 0 0 1150 759.8"/>
<path class="t" d="M1150.3 757.5A18.6 11.2 63.5 0 0 1133.8 724.2"/>
<path class="kf" d="M1109.6 738.4L1133.4 726.5A16.7 10 63.5 0 1 1148.3 756.4L1124.4 768.2A16.7 10 63.5 0 1 1109.6 738.4Z"/>
<path class="t" d="M1148.3 756.4A16.7 10 63.5 0 0 1133.4 726.5"/>
<path class="k" d="M1126 748.9A16.7 10 63.5 0 0 1108 757.8"/>
<path class="t" d="M1108 757.8A16.7 10 63.5 0 0 1126 748.9M1124.1 765.6A14.2 8.5 63.5 1 0 1111.4 740.3A14.2 8.5 63.5 1 0 1124.1 765.6Z"/>
<path class="kf" d="M1055.8 782.5L1093.3 760.8L1107.5 759.2L1124.2 768.3L1121.7 780L1121.7 783.7L1084.2 803.3L1079.2 803.3L1055.8 790Z"/>
<path class="w" d="M1105 759.7L1111.7 753.3L1125 763.3L1123.3 770Z"/>
<path class="k" d="M1107.5 759.2L1124.2 768.3L1121.7 780"/>
<path class="t" d="M1055.8 786.7L1079.2 799.2L1084.2 799.2L1121.7 780M1079.2 799.2L1079.2 803.3M1084.2 799.2L1084.2 803.3"/>
<path class="k" d="M1079.2 783.2A4.2 2.8 -10 1 1 1087.4 781.8A4.2 2.8 -10 1 1 1079.2 783.2Z"/>
<path class="l" d="M984.2 763L1047.5 777.8"/>
<path class="kf" d="M1125.4 927.8L1163.9 906.1A27.5 16.5 60.5 0 1 1191 953.9L1152.5 975.7A27.5 16.5 60.5 0 1 1125.4 927.8Z"/>
<path class="k" d="M1125.4 927.8A27.5 16.5 60.5 0 0 1152.5 975.7"/>
<path class="t" d="M1152.5 972.9A25.1 15 60.5 0 0 1127.8 929.3"/>
<path class="kf" d="M1098.5 948.6L1127.8 932A22.7 13.6 60.5 0 1 1150.1 971.5L1120.8 988.1A22.7 13.6 60.5 0 1 1098.5 948.6Z"/>
<path class="t" d="M1150.1 971.5A22.7 13.6 60.5 0 0 1127.8 932"/>
<path class="k" d="M1121.5 961.6A22.7 13.6 60.5 0 0 1097.8 975"/>
<path class="t" d="M1097.8 975A22.7 13.6 60.5 0 0 1121.5 961.6M1120.1 985A19.7 11.8 60.5 1 0 1100.7 950.8A19.7 11.8 60.5 1 0 1120.1 985Z"/>
<path class="kf" d="M1034.4 1013A35.3 19.2 -4 1 1 1104.9 1008A35.3 19.2 -4 1 1 1034.4 1013Z"/>
<path class="w" d="M1034.3 1004.7L1105 1004.7L1105 1010.5L1034.3 1010.5Z"/>
<path class="k" d="M1034.4 1007.1L1034.4 1013M1104.9 1002.2L1104.9 1008"/>
<path class="kf" d="M1034.4 1007.1A35.3 19.2 -4 1 1 1104.9 1002.2A35.3 19.2 -4 1 1 1034.4 1007.1Z"/>
<path class="w" d="M1080.5 985.9Q1090.7 977.2 1097.5 974.3L1119.1 988.8L1119.1 994.6L1104.7 1006.4L1090.9 1004.7Z"/>
<path class="k" d="M1080.5 985.9Q1090.7 977.2 1097.5 974.3M1119.1 988.8L1119.1 994.6L1104.7 1006.4L1104.7 1000.5"/>
<path class="t" d="M1104.7 1000.5L1117.7 988.8M1098.3 974.8L1104.1 972.3L1118.2 988"/>
<path class="k" d="M1051.5 1005.9A17.5 9.2 -4 1 1 1086.4 1003.5A17.5 9.2 -4 1 1 1051.5 1005.9Z"/>
<path class="t" d="M1052.3 1006.2A17.5 9.2 -4 0 1 1085.2 1003.9"/>
<path class="l" d="M984.2 982L1028.3 992.5"/>
<path class="kf" d="M1110.6 1135.1L1140 1120.1A21.7 13 63 0 1 1159.7 1158.7L1130.3 1173.7A21.7 13 63 0 1 1110.6 1135.1Z"/>
<path class="k" d="M1110.6 1135.1A21.7 13 63 0 0 1130.3 1173.7"/>
<path class="t" d="M1130.5 1171.2A19.6 11.8 63 0 0 1112.8 1136.3"/>
<path class="kf" d="M1091.7 1149.4L1112.5 1138.8A17.5 10.5 63 0 1 1128.4 1170L1107.6 1180.6A17.5 10.5 63 0 1 1091.7 1149.4Z"/>
<path class="t" d="M1128.4 1170A17.5 10.5 63 0 0 1112.5 1138.8"/>
<path class="k" d="M1109 1160.2A17.5 10.5 63 0 0 1090.3 1169.8"/>
<path class="t" d="M1090.3 1169.8A17.5 10.5 63 0 0 1109 1160.2M1107.1 1177.7A14.7 8.8 63 1 0 1093.8 1151.5A14.7 8.8 63 1 0 1107.1 1177.7Z"/>
<path class="kf" d="M1042.6 1201.6A27.5 15.3 -4 1 1 1097.4 1197.8A27.5 15.3 -4 1 1 1042.6 1201.6Z"/>
<path class="w" d="M1042.5 1195L1097.5 1195L1097.5 1199.7L1042.5 1199.7Z"/>
<path class="k" d="M1042.6 1196.9L1042.6 1201.6M1097.4 1193.1L1097.4 1197.8"/>
<path class="kf" d="M1042.6 1196.9A27.5 15.3 -4 1 1 1097.4 1193.1A27.5 15.3 -4 1 1 1042.6 1196.9Z"/>
<path class="w" d="M1078.4 1180Q1085.4 1171.9 1090 1169.2L1106.2 1181.1L1106.2 1185.8L1097.2 1196.4L1086.5 1195Z"/>
<path class="k" d="M1078.4 1180Q1085.4 1171.9 1090 1169.2M1106.2 1181.1L1106.2 1185.8L1097.2 1196.4L1097.2 1191.8"/>
<path class="t" d="M1097.2 1191.8L1104.9 1181.1M1090.9 1169.7L1096.7 1167.2L1105.4 1180.3"/>
<path class="k" d="M1056.5 1195.9A13 6.7 -4 1 1 1082.4 1194.1A13 6.7 -4 1 1 1056.5 1195.9Z"/>
<path class="t" d="M1057.1 1196.4A13 6.7 -4 0 1 1081.5 1194.7"/>
<path class="l" d="M976.3 1170L1033.7 1186.7"/>
<path class="kf" d="M1111.1 1309.8L1140.5 1294.8A21.7 13 63 0 1 1160.2 1333.4L1130.8 1348.4A21.7 13 63 0 1 1111.1 1309.8Z"/>
<path class="k" d="M1111.1 1309.8A21.7 13 63 0 0 1130.8 1348.4"/>
<path class="t" d="M1131 1345.9A19.6 11.8 63 0 0 1113.2 1311"/>
<path class="kf" d="M1092.2 1324.1L1113 1313.5A17.5 10.5 63 0 1 1128.9 1344.7L1108.1 1355.3A17.5 10.5 63 0 1 1092.2 1324.1Z"/>
<path class="t" d="M1128.9 1344.7A17.5 10.5 63 0 0 1113 1313.5"/>
<path class="k" d="M1109.5 1334.9A17.5 10.5 63 0 0 1090.8 1344.4"/>
<path class="t" d="M1090.8 1344.4A17.5 10.5 63 0 0 1109.5 1334.9M1107.6 1352.3A14.7 8.8 63 1 0 1094.2 1326.2A14.7 8.8 63 1 0 1107.6 1352.3Z"/>
<path class="kf" d="M1043.9 1375.4A27.2 15.3 -4 1 1 1098.1 1371.6A27.2 15.3 -4 1 1 1043.9 1375.4Z"/>
<path class="w" d="M1043.8 1368.8L1098.2 1368.8L1098.2 1373.5L1043.8 1373.5Z"/>
<path class="k" d="M1043.9 1370.7L1043.9 1375.4M1098.1 1366.9L1098.1 1371.6"/>
<path class="kf" d="M1043.9 1370.7A27.2 15.3 -4 1 1 1098.1 1366.9A27.2 15.3 -4 1 1 1043.9 1370.7Z"/>
<path class="w" d="M1079.3 1353.8Q1086 1346.4 1090.5 1343.9L1106.7 1355.8L1106.7 1360.4L1097.9 1370.3L1087.3 1368.8Z"/>
<path class="k" d="M1079.3 1353.8Q1086 1346.4 1090.5 1343.9M1106.7 1355.8L1106.7 1360.4L1097.9 1370.3L1097.9 1365.6"/>
<path class="t" d="M1097.9 1365.6L1105.4 1355.8M1091.4 1344.4L1097.2 1341.9L1105.9 1354.9"/>
<path class="k" d="M1057.5 1369.7A13 7 -4 1 1 1083.4 1367.9A13 7 -4 1 1 1057.5 1369.7Z"/>
<path class="t" d="M1058.1 1370.1A13 7 -4 0 1 1082.5 1368.4"/>
<path class="l" d="M976.3 1329.5L1044.2 1348.7"/>
<path class="kf" d="M1140.7 1501.1L1161 1490.3A12 7.2 62 0 1 1172.3 1511.5L1152 1522.3A12 7.2 62 0 1 1140.7 1501.1Z"/>
<path class="k" d="M1152.7 1508.3A12 7.2 62 0 0 1140 1515"/>
<path class="t" d="M1140 1515A12 7.2 62 0 0 1152.7 1508.3"/>
<path class="k" d="M1150.2 1517.5A7 4.2 62 1 0 1143.6 1505.2A7 4.2 62 1 0 1150.2 1517.5Z"/>
<path class="kf" d="M1094.2 1523.8L1121.7 1522.5L1137.5 1514.7L1153.3 1522.5L1153.3 1526.3L1137.5 1533.7L1137.5 1554.2L1118.3 1563.3Q1105 1567.5 1088.3 1566.7Q1073.3 1563.3 1068.7 1555L1068.7 1546.7Q1069.2 1533.3 1094.2 1523.8Z"/>
<path class="t" d="M1068.7 1546.7Q1071.7 1559.2 1088.3 1562.5Q1105 1563.3 1118.3 1559.2L1137.5 1550M1137.5 1530L1153.3 1522.5M1118.3 1559.2L1118.3 1563.3"/>
<path class="k" d="M1137.5 1514.7L1153.3 1522.5M1080.5 1547A17.5 10.3 -4 1 1 1115.5 1544.6A17.5 10.3 -4 1 1 1080.5 1547Z"/>
<path class="t" d="M1081.3 1546A17.5 10.3 -4 0 1 1114.2 1543.7"/>
<path class="l" d="M977.2 1515L1062.5 1533.7"/>
<path class="kf" d="M1106.3 1689.1L1135.5 1673.5A21.7 13 62 0 1 1155.9 1711.8L1126.6 1727.3A21.7 13 62 0 1 1106.3 1689.1Z"/>
<path class="k" d="M1106.3 1689.1A21.7 13 62 0 0 1126.6 1727.3"/>
<path class="t" d="M1126.8 1724.9A19.6 11.8 62 0 0 1108.4 1690.3"/>
<path class="kf" d="M1087.6 1703.7L1108.2 1692.8A17.5 10.5 62 0 1 1124.7 1723.7L1104 1734.6A17.5 10.5 62 0 1 1087.6 1703.7Z"/>
<path class="t" d="M1124.7 1723.7A17.5 10.5 62 0 0 1108.2 1692.8"/>
<path class="k" d="M1105.1 1714.2A17.5 10.5 62 0 0 1086.6 1724.1"/>
<path class="t" d="M1086.6 1724.1A17.5 10.5 62 0 0 1105.1 1714.2M1103.5 1731.7A14.7 8.8 62 1 0 1089.7 1705.8A14.7 8.8 62 1 0 1103.5 1731.7Z"/>
<path class="kf" d="M1039.2 1754.1A27.2 14.7 -4 1 1 1093.4 1750.3A27.2 14.7 -4 1 1 1039.2 1754.1Z"/>
<path class="w" d="M1039.2 1747.5L1093.5 1747.5L1093.5 1752.2L1039.2 1752.2Z"/>
<path class="k" d="M1039.2 1749.4L1039.2 1754.1M1093.4 1745.6L1093.4 1750.3"/>
<path class="kf" d="M1039.2 1749.4A27.2 14.7 -4 1 1 1093.4 1745.6A27.2 14.7 -4 1 1 1039.2 1749.4Z"/>
<path class="w" d="M1074.6 1733.1Q1081.6 1725.9 1086.3 1723.5L1102.7 1735.2L1102.7 1739.8L1093.2 1749L1082.6 1747.5Z"/>
<path class="k" d="M1074.6 1733.1Q1081.6 1725.9 1086.3 1723.5M1102.7 1735.2L1102.7 1739.8L1093.2 1749L1093.2 1744.3"/>
<path class="t" d="M1093.2 1744.3L1101.3 1735.2M1087.1 1724L1093 1721.5L1101.8 1734.3"/>
<path class="k" d="M1052.8 1748.4A13 6.7 -4 1 1 1078.8 1746.6A13 6.7 -4 1 1 1052.8 1748.4Z"/>
<path class="t" d="M1053.5 1748.9A13 6.7 -4 0 1 1077.8 1747.2"/>
<path class="l" d="M978.3 1721.3L1034.7 1734.2"/>
<path class="kf" d="M1132.2 1867.8L1151.5 1856.2A10.3 6.2 59 0 1 1162.1 1873.9L1142.8 1885.5A10.3 6.2 59 0 1 1132.2 1867.8Z"/>
<path class="k" d="M1142.8 1873.5A10.3 6.2 59 0 0 1132.2 1879.9"/>
<path class="t" d="M1132.2 1879.9A10.3 6.2 59 0 0 1142.8 1873.5"/>
<path class="k" d="M1141.2 1881.5A6 3.6 59 1 0 1135 1871.2A6 3.6 59 1 0 1141.2 1881.5Z"/>
<path class="kf" d="M1048.9 1921.3A40.8 24.2 -4 1 1 1130.4 1915.7A40.8 24.2 -4 1 1 1048.9 1921.3Z"/>
<path class="w" d="M1048.8 1913.8L1130.5 1913.8L1130.5 1918.5L1048.8 1918.5Z"/>
<path class="k" d="M1048.9 1916.7L1048.9 1921.3M1130.4 1911L1130.4 1915.7"/>
<path class="kf" d="M1048.9 1916.7A40.8 24.2 -4 1 1 1130.4 1911A40.8 24.2 -4 1 1 1048.9 1916.7Z"/>
<path class="w" d="M1072.8 1892.5L1131.5 1878.6L1142.3 1885.8L1142.3 1889L1128.1 1924.9L1110.1 1913.8Z"/>
<path class="k" d="M1072.8 1892.5L1131.5 1878.6M1142.3 1885.8L1142.3 1889L1128.1 1924.9L1128.1 1920.2"/>
<path class="t" d="M1128.1 1920.2L1141.3 1885.8"/>
<path class="k" d="M1061.4 1915.8A28.3 16.7 -4 1 1 1117.9 1911.8A28.3 16.7 -4 1 1 1061.4 1915.8Z"/>
<path class="t" d="M1062.7 1912.8A28.3 16.7 -4 0 1 1115.8 1909.1"/>
<path class="l" d="M977.2 1876.7L1043.3 1893"/>
<path class="kf" d="M1117.5 2060.8L1147.1 2047A19.7 11.8 65 0 1 1163.8 2082.7L1134.2 2096.5A19.7 11.8 65 0 1 1117.5 2060.8Z"/>
<path class="k" d="M1136.5 2073.7A19.7 11.8 65 0 0 1115.1 2083.7"/>
<path class="t" d="M1115.1 2083.7A19.7 11.8 65 0 0 1136.5 2073.7"/>
<path class="k" d="M1132.4 2090.7A13.7 8.2 65 1 0 1120.8 2065.9A13.7 8.2 65 1 0 1132.4 2090.7Z"/>
<path class="kf" d="M1096.7 2087.5L1113.3 2087L1134.2 2098.3L1134.2 2115L1134.2 2119.7L1100.8 2138Q1086.7 2140 1068.3 2136.3Q1058.3 2131.7 1055.3 2123.3L1055.3 2117.5Q1056.7 2110.8 1063.3 2106.3Z"/>
<path class="t" d="M1055.3 2117.5Q1058.3 2127.5 1068.3 2131.7Q1086.7 2135.3 1100.8 2133.3L1134.2 2115M1100.8 2133.3L1100.8 2138"/>
<path class="k" d="M1067.9 2118.8A14.2 8.3 -4 1 1 1096.1 2116.8A14.2 8.3 -4 1 1 1067.9 2118.8Z"/>
<path class="t" d="M1068.5 2118.4A14.2 8.3 -4 0 1 1095.1 2116.6"/>
<path class="l" d="M977.2 2090L1044.7 2104.2"/>
<path class="kf" d="M1122.2 2250.1L1154.7 2234.9A18.3 11 65 0 1 1170.2 2268.1L1137.8 2283.3A18.3 11 65 0 1 1122.2 2250.1Z"/>
<path class="k" d="M1140 2262A18.3 11 65 0 0 1120 2271.3"/>
<path class="t" d="M1120 2271.3A18.3 11 65 0 0 1140 2262"/>
<path class="k" d="M1135.1 2275.7A10.3 6.2 65 1 0 1126.4 2256.9A10.3 6.2 65 1 0 1135.1 2275.7Z"/>
<path class="kf" d="M1074.2 2278L1105 2278L1116.7 2272.5L1142.5 2285.8L1142.5 2291.7L1131.7 2296.7L1131.7 2320.8L1113.3 2330Q1100 2334.7 1086.7 2334.7Q1063.3 2333.3 1050 2324.2Q1044.2 2318.3 1043.3 2313.3L1043.3 2307.5Q1045 2298.3 1056.7 2288.3Z"/>
<path class="t" d="M1043.3 2307.5Q1046.7 2319.2 1063.3 2328.3Q1086.7 2331.7 1113.3 2325L1131.7 2315.8M1131.7 2293.3L1142.5 2288M1113.3 2325L1113.3 2330"/>
<path class="k" d="M1062.9 2306.5A21.3 12.5 -4 1 1 1105.5 2303.5A21.3 12.5 -4 1 1 1062.9 2306.5Z"/>
<path class="t" d="M1063.9 2305.1A21.3 12.5 -4 0 1 1103.9 2302.3"/>
<path class="l" d="M977.2 2287.5L1034.7 2299.7"/>
<path class="kf" d="M1138.7 2495.9L1159 2485.1A12 7.2 62 0 1 1170.3 2506.3L1150 2517.1A12 7.2 62 0 1 1138.7 2495.9Z"/>
<path class="k" d="M1150.7 2503.1A12 7.2 62 0 0 1138 2509.9"/>
<path class="t" d="M1138 2509.9A12 7.2 62 0 0 1150.7 2503.1"/>
<path class="k" d="M1148.2 2512.4A7 4.2 62 1 0 1141.6 2500A7 4.2 62 1 0 1148.2 2512.4Z"/>
<path class="kf" d="M1092.2 2518.7L1119.7 2517.3L1135.5 2509.5L1151.3 2517.3L1151.3 2521.2L1135.5 2528.5L1135.5 2549L1116.3 2558.2Q1103 2562.3 1086.3 2561.5Q1071.3 2558.2 1066.7 2549.8L1066.7 2541.5Q1067.2 2528.2 1092.2 2518.7Z"/>
<path class="t" d="M1066.7 2541.5Q1069.7 2554 1086.3 2557.3Q1103 2558.2 1116.3 2554L1135.5 2544.8M1135.5 2524.8L1151.3 2517.3M1116.3 2554L1116.3 2558.2"/>
<path class="k" d="M1135.5 2509.5L1151.3 2517.3M1078.5 2541.9A17.5 10.3 -4 1 1 1113.5 2539.4A17.5 10.3 -4 1 1 1078.5 2541.9Z"/>
<path class="t" d="M1079.3 2540.8A17.5 10.3 -4 0 1 1112.2 2538.5"/>
<path class="l" d="M1000 2511.3L1058.3 2527"/>
<path class="kf" d="M1475.2 405.9L1487.8 399.4A18 10.8 62.6 0 1 1504.3 431.3L1491.8 437.8A18 10.8 62.6 0 1 1475.2 405.9Z"/>
<path class="k" d="M1475.2 405.9A18 10.8 62.6 0 0 1491.8 437.8"/>
<path class="t" d="M1491.7 435.6A16 9.6 62.6 0 0 1477 407.2"/>
<path class="kf" d="M1469.9 412L1476.6 408.5A15 9 62.6 0 1 1490.4 435.2L1483.7 438.6A15 9 62.6 0 1 1469.9 412Z"/>
<path class="t" d="M1488.6 437.1A16 9.6 62.6 0 0 1473.9 408.8"/>
<path class="kf" d="M1444 423.5L1469.2 410.5A16.7 10 62.6 0 1 1484.5 440.1L1459.3 453.1A16.7 10 62.6 0 1 1444 423.5Z"/>
<path class="kf" d="M1376.8 480A36.3 21.2 -4 1 1 1449.2 475A36.3 21.2 -4 1 1 1376.8 480Z"/>
<path class="w" d="M1376.7 472.5L1449.3 472.5L1449.3 477.5L1376.7 477.5Z"/>
<path class="k" d="M1376.8 475L1376.8 480M1449.2 470L1449.2 475"/>
<path class="kf" d="M1376.8 475A36.3 21.2 -4 1 1 1449.2 470A36.3 21.2 -4 1 1 1376.8 475Z"/>
<path class="w" d="M1426.4 452.2Q1436.1 444.9 1442.5 442.4L1458 453.6L1458 458.6L1448.4 471.3L1434.8 472.5Z"/>
<path class="k" d="M1426.4 452.2Q1436.1 444.9 1442.5 442.4M1458 453.6L1458 458.6L1448.4 471.3L1448.4 466.3"/>
<path class="t" d="M1448.4 466.3L1456.7 453.6"/>
<path class="k" d="M1393.7 473.8A18.7 10.3 -4 1 1 1430.9 471.2A18.7 10.3 -4 1 1 1393.7 473.8Z"/>
<path class="t" d="M1394.5 473.2A18.7 10.3 -4 0 1 1429.5 470.8"/>
<path class="kf" d="M1459.3 453.1A16.7 10 62.6 1 0 1444 423.5A16.7 10 62.6 1 0 1459.3 453.1Z"/>
<path class="k" d="M1454.2 441.9A4.3 2.6 62.6 1 0 1450.3 434.2A4.3 2.6 62.6 1 0 1454.2 441.9Z"/>
<path class="l" d="M1315.5 434.5L1374.7 455"/>
<path class="kf" d="M1353 675L1452.5 620L1452.5 608.8L1468.8 601.2L1517.5 629.5L1517.5 667.5L1402 733.8L1391.2 728L1391.2 725L1370 713.8L1370 717L1362.5 713L1362.5 709.5L1353 704.5Z"/>
<path class="k" d="M1353 675L1402 701.2L1402 733.8M1402 701.2L1501.2 646.2L1501.2 638L1517.5 629.5M1501.2 638L1452.5 608.8M1452.5 620L1501.2 646.2"/>
<path class="t" d="M1460 616.2L1502 640M1402 705L1501.2 649.5"/>
<path class="k" d="M1357.5 684.5L1357.5 700L1365 703.8L1365 707.5L1372.5 711.5L1396.2 723.8L1396.2 708Z"/>
<path class="t" d="M1357.5 700L1365 696.2L1365 703.8M1365 696.2L1372.5 700L1372.5 711.5M1372.5 705L1380 701.2L1396.2 710M1387.5 720L1387.5 715L1396.2 719.5M1380 701.2L1380 707.5"/>
<path class="l" d="M1306.2 655.5L1344.5 669.2"/>
<path class="kf" d="M1341.2 943.8L1350 939.2L1352 940L1352 958L1341.2 952.5Z"/>
<path class="kf" d="M1352 923.8L1450 868.8L1450 853.8L1458.8 848.8L1507.5 877.5L1507.5 951.2L1400 1013.8L1352 987.5Z"/>
<path class="k" d="M1352 923.8L1362.5 929.2L1362.5 925.5L1365.5 923.8L1390 937.5L1390 943.8L1400 949.5L1400 1013.8M1400 949.5L1498.8 892.5L1498.8 882.5L1507.5 877.5M1498.8 882.5L1455 857.5M1450 853.8L1455 857.5L1455 866.2"/>
<path class="t" d="M1365.5 923.8L1460 870M1390 937.5L1487.5 882.5L1487.5 889.5M1390 943.8L1488.8 888.8M1362.5 929.2L1455 875.5M1487.5 882.5L1460 867"/>
<path class="k" d="M1356.2 935L1356.2 946.2L1365 951.2M1368.8 933.8L1375 930L1383.8 935L1383.8 948.8L1388.8 951.2L1388.8 957.5L1395 961.2L1395 975L1356.2 953.8L1356.2 946.2M1356.2 972.5L1356.2 986.2L1395 1007.5L1395 995.5L1388.8 992L1388.8 985L1383.8 982.5L1383.8 976.2L1376.2 972M1368.8 967.5L1376.2 963.8"/>
<path class="t" d="M1356.2 946.2L1375 936.2L1383.8 941.2M1362.5 938.8L1362.5 943M1368.8 935L1368.8 940M1356.2 980L1375 970L1395 1000M1362.5 970L1362.5 975.5M1368.8 967L1368.8 972.5M1365 951.2L1365 958.8"/>
<path class="l" d="M1302 893.8L1366.2 905.5"/>
<path class="kf" d="M1366.2 1227.5L1437.5 1182.5L1551.2 1115.5L1597.5 1138.8Q1600.5 1145.5 1597.5 1152.5L1565 1170L1561.2 1171.2L1561.2 1203.8L1552.5 1208.8L1552.5 1256.2L1477.5 1300L1475 1299.5L1405 1337.5L1400 1335.5L1375 1321.2L1375 1270L1366.2 1260Z"/>
<path class="k" d="M1437.5 1182.5L1443.8 1185L1486.2 1207.5L1486.2 1246.2L1477.5 1251.2M1486.2 1207.5L1561.2 1165L1561.2 1171.2M1561.2 1165L1565 1162.5L1565 1170M1565 1162.5L1595 1145.5"/>
<path class="t" d="M1457.5 1182.5L1512.5 1151.2L1512.5 1176.2L1480 1195ZM1515 1150L1548.8 1130L1572.5 1142.5L1526.2 1168.8L1515 1175ZM1548.8 1130L1548.8 1140L1567.5 1148.8M1522.5 1146.2L1522.5 1152.5L1526.2 1153.8L1547.5 1141.2M1440 1186.2L1483.8 1210L1483.8 1245"/>
<path class="k" d="M1366.2 1227.5Q1367.5 1225 1370.5 1224.5L1412.5 1248.8Q1412.5 1252.5 1410.5 1255L1410.5 1283.8L1412.5 1287.5M1412.5 1248.8L1476.2 1211.2M1370.5 1224.5L1440 1183.8M1412.5 1287.5L1476.2 1252.5L1476.2 1300M1476.2 1252.5L1486.2 1246.2M1477.5 1251.2L1552.5 1208.8M1486.2 1246.2L1561.2 1203.8"/>
<path class="t" d="M1372.5 1233L1442.5 1192M1372.5 1230L1372.5 1233L1375 1235"/>
<path class="k" d="M1372 1240Q1372.5 1237 1375.5 1238L1405 1254.5Q1408.8 1256.2 1408.8 1260L1408.8 1275Q1408 1278 1405 1277L1375 1260Q1372 1258 1372 1255Z"/>
<path class="t" d="M1375 1252.5L1390 1243.8M1375 1256.2L1391.2 1247L1408.8 1256.2"/>
<path class="k" d="M1375 1270L1406.2 1287.5L1406.2 1337.5M1406.2 1287.5L1412.5 1285M1381.2 1282Q1381.2 1278.8 1384.5 1280L1397.5 1287Q1400.5 1288.8 1400.5 1292L1400.5 1326.2Q1400 1329.5 1397 1328L1383.8 1320.5Q1381.2 1318.8 1381.2 1315.5Z"/>
<path class="t" d="M1383.8 1315L1398.8 1306.2M1383.8 1318L1400 1309.5"/>
<path class="l" d="M1299.5 1208.8L1358.8 1223.2"/>
<path class="kf" d="M1335 1493.8L1437.5 1433.8L1437.5 1421.2L1451.2 1413.8L1556.2 1474.5L1556.2 1518.8L1436.2 1587L1390 1560.5L1390 1557L1386.2 1558L1340 1530.5L1335 1525Z"/>
<path class="k" d="M1437.5 1421.2L1542.5 1482.5L1556.2 1474.5M1542.5 1482.5L1540 1491.2L1437.5 1432.5M1540 1491.2L1440 1550L1440 1586.2M1440 1550L1433.8 1546.2"/>
<path class="t" d="M1445 1425.5L1543 1482M1442.5 1555L1555.5 1488.8"/>
<path class="k" d="M1335 1493.8L1342.5 1498L1342.5 1519.5L1351.2 1523.8L1351.2 1528L1375 1541.2L1375 1535.5L1383.8 1540L1383.8 1517L1406.2 1503L1368.8 1482L1342.5 1498"/>
<path class="t" d="M1342.5 1519.5L1380 1498M1351.2 1523.8L1391.2 1500.5M1351.2 1528L1396.2 1502.5M1375 1535.5L1383.8 1530"/>
<path class="k" d="M1383.8 1517L1392.5 1521.2L1392.5 1555M1392.5 1521.2L1418.8 1506.2L1432.5 1514.5Q1440 1508.8 1452.5 1508.8Q1464.5 1510.5 1466.2 1517.5Q1465 1524.5 1452.5 1529.5L1455 1531.2L1433.8 1543.8L1433.8 1565.5L1425 1570.5L1425 1565L1402.5 1552.5L1402.5 1547.5L1395 1543"/>
<path class="t" d="M1395 1543L1437.5 1518.8Q1447.5 1515 1455 1517M1402.5 1547.5L1450 1520.5M1402.5 1552.5L1452.5 1529.5M1425 1565L1433.8 1560"/>
<path class="l" d="M1303.8 1468L1338.8 1478"/>
<path class="kf" d="M1390 1757.5Q1390 1752 1393.8 1749.5L1437.5 1724.5L1440 1718.8L1480 1695L1487.5 1698.8Q1492.5 1695 1500 1696.2Q1508.8 1698.8 1511.2 1707.5L1527.5 1717.5L1528.8 1720.5L1528.8 1766.2L1486.2 1791.2L1481.2 1790L1476.2 1784.5L1470 1787L1470 1792.5L1427.5 1816.2L1420 1812.5L1420 1807.5L1423.8 1805.5L1400 1792.5L1395 1790L1395 1783.8L1390 1780Z"/>
<path class="k" d="M1393.8 1749.5L1427.5 1768.8Q1431.2 1771.2 1431.2 1775L1431.2 1802.5L1427.5 1805L1427.5 1816.2M1431.2 1773.8L1476.2 1746.2L1476.2 1784.5M1440 1718.8L1476.2 1740L1486.2 1745.5L1486.2 1791.2M1476.2 1740L1476.2 1746.2M1486.2 1745.5L1528.8 1720.5M1457.5 1718Q1465 1714.5 1469.5 1721.2L1470 1735L1476.2 1740M1453.8 1726.2L1457.5 1718"/>
<path class="t" d="M1457.5 1718L1500 1696.2M1469.5 1721.2L1511.2 1707.5M1470 1735L1512.5 1710M1440 1718.8L1447.5 1715.5L1457.5 1721.2M1483.8 1747.5L1483.8 1790M1431.2 1802.5L1470 1780L1470 1787"/>
<path class="k" d="M1395 1760L1400 1762.5L1400 1759.5L1405 1762.5L1405 1766.2L1410 1768.8L1410 1790L1405 1787.5L1405 1792.5L1400 1790L1400 1784.5L1395 1782ZM1412.5 1770L1417.5 1772.5L1417.5 1769.5L1422.5 1772.5L1422.5 1776.2L1427.5 1778.8L1427.5 1800L1422.5 1797.5L1422.5 1802.5L1417.5 1800L1417.5 1794.5L1412.5 1792Z"/>
<path class="t" d="M1395 1777.5L1403.8 1772.5L1410 1776.2M1412.5 1787.5L1421.2 1782.5L1427.5 1786.2M1400 1792.5L1400 1797.5L1405 1800L1405 1796.2"/>
<path class="l" d="M1301.2 1721.2L1382 1743"/>
<path class="kf" d="M1353.8 1965Q1354.5 1961.2 1358.8 1959.5L1471.2 1894.5L1515 1918.8Q1518.8 1921.2 1518.8 1926.2L1518.8 1957.5L1508.8 1963.8L1508.8 2005L1391.2 2072.5L1387.5 2072L1360 2056.2Q1357.5 2054.5 1357.5 2051.2L1357.5 2000L1353.8 1996.2Z"/>
<path class="k" d="M1358.8 1959.5L1398.8 1983Q1402.5 1985 1403 1989.5L1402.5 2023.8L1518.8 1957.5M1401.2 1984.5L1516.2 1920M1391.2 2022.5L1391.2 2072.5M1357.5 2000L1391.2 2019.5L1402.5 2023.8"/>
<path class="t" d="M1403 1992L1518 1927"/>
<path class="k" d="M1425 1932.5L1440 1916.2L1463.8 1931.2L1463.8 1935L1447.5 1946.2Z"/>
<path class="t" d="M1440 1916.2L1447.5 1946.2M1447.5 1946.2L1462.5 1931.2"/>
<path class="k" d="M1358.8 1977.5L1365 1981.2L1365 1972L1370 1974.5L1370 1979.5L1390 1990.5L1390 1995L1396.2 1998L1396.2 2013L1358.8 1992.5Z"/>
<path class="t" d="M1358.8 1985L1370 1979.5M1370 1979.5L1390 1990.5"/>
<path class="k" d="M1365 2007.5L1376.2 2013.8L1376.2 2018.8L1380 2020.5L1380 2025L1385 2028L1385 2050L1381.2 2052.5L1381.2 2058.8L1385 2061.2L1385 2063.8L1365 2052.5Z"/>
<path class="t" d="M1365 2046.2L1376.2 2040L1385 2045M1376.2 2040L1376.2 2018.8"/>
<path class="l" d="M1303 1954.5L1342.5 1963.8"/>
<path class="kf" d="M1354.5 2207.5L1463.8 2143.2L1472.5 2147.5L1505.5 2128.8L1552.5 2155.5L1552.5 2193.8L1593.8 2217.5L1593.8 2256.2L1483.8 2318.8L1436.2 2291.2L1436.2 2252.5L1402.5 2271.2L1354.5 2243.8Z"/>
<path class="k" d="M1354.5 2207.5L1395.5 2230.5M1395.5 2193.8L1395.5 2230.5L1402.5 2233.8L1402.5 2271.2M1402.5 2233.8L1436.2 2252.5M1395.5 2193.8L1505.5 2128.8M1395.5 2193.8L1442.5 2220L1442.5 2257.5M1442.5 2220L1552.5 2155.5M1442.5 2257.5L1552.5 2193.8M1442.5 2257.5L1436.2 2253.8L1483.8 2281.2L1483.8 2318.8M1483.8 2281.2L1593.8 2217.5M1360.2 2240.9L1360.2 2232.2L1365.7 2235.1L1365.7 2228.1L1371.8 2231.4L1371.8 2223.5L1385 2231L1385 2238L1391.3 2241.7L1391.3 2250L1396.7 2253.3L1396.7 2261.2ZM1438.5 2223.5L1438.5 2232.2L1433.1 2229.3L1433.1 2236.3L1426.9 2233L1426.9 2240.9L1413.7 2233.4L1413.7 2226.4L1407.4 2222.7L1407.4 2214.4L1402.1 2211.1L1402.1 2203.2ZM1443.1 2286.8L1443.1 2278.1L1448.5 2281L1448.5 2274L1454.7 2277.3L1454.7 2269.4L1467.9 2276.9L1467.9 2283.9L1474.2 2287.6L1474.2 2295.9L1479.5 2299.2L1479.5 2307.1Z"/>
<path class="t" d="M1360.2 2240.9L1377.2 2230.9M1361.2 2238.4L1376.2 2229.7M1365.7 2235.1L1368.2 2233.6M1407.9 2213.1L1421.9 2205.1M1407.9 2221.8L1421.9 2213.8M1412.9 2224.7L1426.9 2216.7M1412.9 2231.8L1426.9 2223.8M1427.8 2233L1433.6 2229.7M1433.6 2228.9L1438.5 2226.2M1443.1 2286.8L1460.1 2276.8M1444.1 2284.3L1459.1 2275.6M1448.5 2281L1451.1 2279.5"/>
<path class="l" d="M1309.5 2185L1351.8 2198"/>
<path class="kf" d="M1365 2458.8L1482.5 2392L1486.2 2393.8L1495 2388.8L1495 2381.2L1504.5 2376.2L1552.5 2403.8L1552.5 2433.8L1577.5 2447.5L1577.5 2486.2L1461.2 2553.8L1365 2497.5Z"/>
<path class="k" d="M1365 2458.8L1386.2 2471.2L1386.2 2465L1390 2462.5L1390 2450L1400 2455.5M1400 2451.2L1400 2456.2L1427.5 2472.5Q1434.5 2474.2 1437.5 2478L1437.5 2500L1442.5 2503.8L1457.5 2511.2Q1461.2 2513 1461.2 2517.5L1461.2 2553.8M1437.5 2500L1552.5 2433.8M1460 2513.8L1576.2 2448M1390 2450L1486.2 2393.8M1400 2451.2L1495 2396.2L1495 2388.8M1495 2381.2L1543.8 2410L1552.5 2403.8M1543.8 2410L1543.8 2415.5"/>
<path class="t" d="M1427.5 2467.5L1531.2 2407.5L1531.2 2404.5L1543.8 2411.2M1427.5 2472.5L1531.2 2412.5M1437.5 2478L1543.8 2415.5M1531.2 2407.5L1540 2412.5M1386.2 2465L1480 2411.2M1408.8 2498.8L1408.8 2520M1416.2 2502.5L1416.2 2507.5"/>
<path class="k" d="M1370 2498.8L1370 2490.1L1375.4 2492.9L1375.4 2485.9L1381.6 2489.2L1381.6 2481.3L1394.8 2488.8L1394.8 2495.8L1401.1 2499.6L1401.1 2507.8L1406.4 2511.2L1406.4 2519.1ZM1393.8 2476.2L1393.8 2467.6L1399.2 2470.4L1399.2 2463.4L1405.3 2466.8L1405.3 2458.8L1418.5 2466.3L1418.5 2473.3L1424.8 2477.1L1424.8 2485.3L1430.2 2488.7L1430.2 2496.6ZM1416.2 2523.8L1416.2 2515.1L1421.7 2517.9L1421.7 2510.9L1427.8 2514.2L1427.8 2506.3L1441 2513.8L1441 2520.8L1447.3 2524.6L1447.3 2532.8L1452.7 2536.2L1452.7 2544.1Z"/>
<path class="t" d="M1370 2498.8L1387 2488.8M1371 2496.2L1386 2487.6M1375.4 2492.9L1378 2491.4M1393.8 2476.2L1410.8 2466.2M1394.8 2473.8L1409.8 2465.1M1399.2 2470.4L1401.8 2468.9M1416.2 2523.8L1433.2 2513.8M1417.2 2521.2L1432.2 2512.6M1421.7 2517.9L1424.2 2516.4"/>
<path class="l" d="M1338.2 2443.8L1367 2448.8"/>
<path class="kf" d="M1735.8 468.8Q1736.2 465 1739.5 463.8L1783.8 440.5L1790 442.5L1856.2 403L1915 435Q1918.8 437.5 1919.2 441.2L1919.2 500L1915 503.8L1915 526.2L1845 566.2L1845 580L1797.5 598.8L1794.5 597.5L1743.8 566.2L1742 562.5L1742 536.2L1735.8 531.2Z"/>
<path class="k" d="M1739.5 463.8L1800 500Q1805 502.5 1805 507.5L1805 567.5L1800 570L1800 597.5M1783.8 440.5L1845 475Q1848.8 477 1848.8 481.2L1848.8 545L1805 567.5M1803.8 503L1847.5 478M1848.8 545L1845 547.5L1845 566.2M1790 442.5L1803.8 450.5M1848.8 477.5L1916.2 437.5M1851.2 538.8L1915 503.8"/>
<path class="t" d="M1805 507.5L1848.8 482M1851.2 482.5L1918.8 443.8M1852.5 477.5L1852.5 537.5M1800 570L1845 548.8"/>
<path class="k" d="M1805 453.8L1823.8 426.2L1847.5 440L1847.5 455L1830 465"/>
<path class="t" d="M1823.8 426.2L1830 465M1830 465L1847.5 443.8"/>
<path class="k" d="M1745 482.5L1753.5 487.2L1753.5 492L1758.2 494.6L1758.2 500.3L1766.2 504.9L1766.2 532.4L1758.2 527.9L1758.2 535L1753.5 532.4L1753.5 526.2L1745 521.5ZM1775 506.2L1783.5 511L1783.5 515.8L1788.2 518.4L1788.2 524.1L1796.2 528.6L1796.2 556.1L1788.2 551.6L1788.2 558.8L1783.5 556.1L1783.5 550L1775 545.2Z"/>
<path class="t" d="M1745 521.5L1756.7 516.1L1758.2 516M1753.5 526.2L1761 522M1775 545.2L1786.7 539.9L1788.2 539.8M1783.5 550L1791 545.7"/>
<path class="k" d="M1751.2 555L1757.5 558.8L1757.5 545L1763.8 548.8L1763.8 553.8L1783.8 565.5L1783.8 572.5L1790 576.2L1790 586.2L1751.2 564.5Z"/>
<path class="t" d="M1751.2 564.5L1765 556.2L1783.8 567.5M1757.5 558.8L1763.8 555"/>
<path class="l" d="M1713 448L1739.5 454.5"/>
<path class="kf" d="M1735.5 737Q1735.5 733.8 1738.8 732L1800 697L1791.2 692.5L1791.2 687.5L1852.5 653L1855.5 654.5L1903 627L1953.8 656.2L1953.8 665.5L1915 687.5L1927.5 694.5Q1931.2 697 1931.2 700L1931.2 775L1927 778.8L1927 800L1866.2 836.2L1862.5 835L1850 827.5L1792.5 859.5L1788.8 858.8L1775 850.5L1775 843.8L1780 841.2L1780 838L1760 826.2L1760 835L1747.5 828Q1743.8 826.2 1743.8 822.5L1743.8 785L1735.5 778.8Z"/>
<path class="k" d="M1738.8 732L1796.2 765.5Q1800 767.5 1800 772.5L1800 817L1792.5 820L1792.5 859.5M1800 697L1860 731.2Q1863.8 733 1863.8 736.2L1863.8 785L1800 817M1800 768.8L1862.5 733.8M1792.5 820L1855 787.5L1855 825L1850 827.5M1863.8 785L1855 787.5M1791.2 687.5L1805 680L1807.5 686.2L1866.2 720Q1870 722.5 1870 726.2L1870 807.5L1866.2 810L1866.2 836.2M1805 680L1805 685M1860 797.5L1862.5 796.2L1862.5 835M1870 730L1930 698M1870 807.5L1927 778.8M1807.5 686.2L1903 631.2M1856.2 713.8L1953.8 660M1856.2 713.8L1856.2 720L1866.2 725M1857.5 720L1915 687.5"/>
<path class="t" d="M1830 685L1908.8 640L1932.5 653.8L1852.5 698.8ZM1908.8 640L1908.8 646.2L1925 655.5M1837.5 685L1908.8 646.2M1880 667.5L1891.2 675L1891.2 671.2M1872.5 731.2L1872.5 806.2M1860 717.5L1912.5 688"/>
<path class="k" d="M1740 743.8L1748.8 748.7L1748.8 753.4L1753.7 756.1L1753.7 761.9L1762 766.5L1762 794.1L1753.7 789.4L1753.7 796.5L1748.8 793.8L1748.8 787.6L1740 782.7ZM1773.8 762.5L1782.2 767.2L1782.2 772L1786.9 774.6L1786.9 780.3L1795 784.9L1795 812.4L1786.9 807.9L1786.9 815L1782.2 812.4L1782.2 806.2L1773.8 801.5Z"/>
<path class="t" d="M1740 782.7L1752.1 777.2L1753.7 777.5M1748.8 787.6L1756.5 783.2M1773.8 801.5L1785.5 796.1L1786.9 796M1782.2 806.2L1789.7 802"/>
<path class="k" d="M1750 805L1756.2 808.8L1756.2 796.2L1762.5 800L1762.5 803.8L1780 813.8L1780 820L1785 823L1785 827.5L1780 825L1780 830L1775 827L1775 822.5L1756.2 812L1756.2 815L1750 811.2ZM1754.5 825L1760 828L1760 835M1775 843.8L1775 840L1780 838"/>
<path class="t" d="M1750 811.2L1762.5 803.8M1756.2 815L1770 807M1760 828L1767.5 823.8L1775 828"/>
<path class="l" d="M1705.5 708L1739.5 722.5"/>
<path class="kf" d="M1739.5 1014.5L1848.8 951.2L1848.8 941.2L1855.5 937.5L1895 960.5Q1901.2 955.5 1906.2 961.2Q1910 965.5 1910 970L1952.5 993.8L1952.5 1070L1836.2 1136.2L1739.5 1080Z"/>
<path class="k" d="M1739.5 1014.5L1780 1037.5L1780 1030Q1783.8 1023.8 1790 1026.2Q1795 1029.5 1795.5 1037.5L1795.5 1047.5L1836.2 1071.2L1836.2 1136.2M1836.2 1071.2L1945 1008.8L1945 996.2L1952.5 993.8M1790 1026.2L1901.2 958.8M1795.5 1043.8L1905 981.2L1905 971.2L1910 970M1905 971.2L1945 996.2M1848.8 951.2L1855 954.5M1848.8 941.2L1890 965.5"/>
<path class="t" d="M1780 1030L1890 965.5M1905 981.2L1945 1005M1855 943L1893 964.5M1837.5 1075L1945 1012.5"/>
<path class="k" d="M1742.5 1021.2L1777.5 1041.2L1777.5 1052.5L1771.2 1048.8L1771.2 1058.8L1747.5 1045L1747.5 1035L1742.5 1032Z"/>
<path class="t" d="M1747.5 1035L1761.2 1027M1747.5 1045L1767.5 1033.8L1777.5 1039.5M1771.2 1048.8L1777.5 1045.2"/>
<path class="k" d="M1742.5 1053.8L1777.5 1073.8L1777.5 1085L1771.2 1081.2L1771.2 1091.2L1747.5 1077.5L1747.5 1067.5L1742.5 1064.5Z"/>
<path class="t" d="M1747.5 1067.5L1761.2 1059.5M1747.5 1077.5L1767.5 1066.2L1777.5 1072M1771.2 1081.2L1777.5 1077.8"/>
<path class="k" d="M1797.5 1053.8L1832.5 1073.8L1832.5 1085L1826.2 1081.2L1826.2 1091.2L1802.5 1077.5L1802.5 1067.5L1797.5 1064.5Z"/>
<path class="t" d="M1802.5 1067.5L1816.2 1059.5M1802.5 1077.5L1822.5 1066.2L1832.5 1072M1826.2 1081.2L1832.5 1077.8"/>
<path class="k" d="M1797.5 1086.2L1832.5 1106.2L1832.5 1117.5L1826.2 1113.8L1826.2 1123.8L1802.5 1110L1802.5 1100L1797.5 1097Z"/>
<path class="t" d="M1802.5 1100L1816.2 1092M1802.5 1110L1822.5 1098.8L1832.5 1104.5M1826.2 1113.8L1832.5 1110.2"/>
<path class="l" d="M1707 993.8L1740.5 1003.8"/>
<path class="kf" d="M1737 1325Q1737.5 1321.2 1740.5 1320L1791.2 1290L1791.2 1272.5L1848.8 1240L1875 1254.5L1912.5 1233.8L1948 1253.8L1948 1262.5L1915 1281.2L1938.8 1293.8Q1942.5 1296.2 1942.5 1300L1942.5 1367.5L1886.2 1401.2L1881.2 1398.8L1820 1432.5L1815 1431.2L1741.2 1388.8Q1737 1386.2 1737 1382.5Z"/>
<path class="k" d="M1740.5 1320L1762.5 1332.5L1762.5 1322L1767.5 1325L1767.5 1331.2L1790 1344.5L1790 1337.5L1797.5 1341.2L1797.5 1352.5L1815 1363.8Q1820 1366.2 1820 1371.2L1820 1432.5M1820 1369.5L1878.8 1335Q1881.2 1333 1881.2 1330L1881.2 1398.8M1857.5 1307.5L1881.2 1321.2Q1886.2 1325 1886.2 1330L1886.2 1401.2M1857.5 1307.5L1857.5 1317M1886.2 1327.5L1941.2 1296.2M1791.2 1272.5L1820 1288.8L1820 1295.5M1820 1288.8L1875 1256.2M1830 1282.5L1912.5 1233.8M1762.5 1322L1820 1288M1790 1337.5L1857.5 1298M1797.5 1341.2L1857.5 1307.5"/>
<path class="t" d="M1767.5 1325L1821.2 1293.8M1767.5 1331.2L1828.8 1296.2M1830 1289L1912.5 1241.2L1935 1253.8L1935 1259.5M1832.5 1295.5L1912.5 1248.8L1926.2 1256.2M1912.5 1241.2L1912.5 1248.8M1797.5 1352.5L1857.5 1317M1883.8 1327.5L1883.8 1400M1825 1372.5L1880 1340"/>
<path class="k" d="M1742.5 1330L1748.8 1328.8L1770 1341.2L1776.2 1348.8L1776.2 1366.2L1770 1365L1748.8 1352.5L1742.5 1346.2Z"/>
<path class="t" d="M1742.5 1346.2L1757.5 1337.5M1748.8 1352.5L1766.2 1342.5L1776.2 1348.8M1750 1349.5L1765 1340.5"/>
<path class="k" d="M1742.5 1362.5L1748.8 1361.2L1770 1373.8L1776.2 1381.2L1776.2 1398.8L1770 1397.5L1748.8 1385L1742.5 1378.8Z"/>
<path class="t" d="M1742.5 1378.8L1757.5 1370M1748.8 1385L1766.2 1375L1776.2 1381.2M1750 1382L1765 1373"/>
<path class="k" d="M1781.8 1352.5L1788 1351.2L1809.2 1363.8L1815.5 1371.2L1815.5 1388.8L1809.2 1387.5L1788 1375L1781.8 1368.8Z"/>
<path class="t" d="M1781.8 1368.8L1796.8 1360M1788 1375L1805.5 1365L1815.5 1371.2M1789.2 1372L1804.2 1363"/>
<path class="k" d="M1781.8 1385L1788 1383.8L1809.2 1396.2L1815.5 1403.8L1815.5 1421.2L1809.2 1420L1788 1407.5L1781.8 1401.2Z"/>
<path class="t" d="M1781.8 1401.2L1796.8 1392.5M1788 1407.5L1805.5 1397.5L1815.5 1403.8M1789.2 1404.5L1804.2 1395.5"/>
<path class="l" d="M1696.2 1290L1743 1307.5"/>
<path class="kf" d="M1736.2 1618L1772.5 1597.5L1897.5 1525.8L1923.8 1540.5L1961.2 1606.2L1961.2 1655L1808.8 1742.5L1765 1717.5L1765 1685L1736.2 1668.8Z"/>
<path class="k" d="M1736.2 1618L1772.5 1638.8L1772.5 1597.5M1773.8 1598L1800 1612.5L1800 1655L1837.5 1676.2L1837.5 1725M1800 1612.5L1910 1550L1923.8 1540.5M1910 1550L1910 1593.8L1800 1655M1910 1550L1946.2 1612.5L1910 1593.8M1946.2 1612.5L1961.2 1606.2M1837.5 1676.2L1946.2 1612.5M1808.8 1711.2L1808.8 1742.5M1808.8 1711.2L1837.5 1725M1743.8 1631.2L1756.2 1638.2L1756.2 1649.2L1757.8 1650.1L1757.8 1657L1756.2 1658L1756.2 1669.5L1743.8 1662.5Z"/>
<path class="t" d="M1743.8 1662.5L1753.8 1656.9L1756.2 1658"/>
<path class="k" d="M1780 1610L1792.5 1617L1792.5 1628L1794 1628.9L1794 1635.8L1792.5 1636.7L1792.5 1648.2L1780 1641.2Z"/>
<path class="t" d="M1780 1641.2L1790 1635.6L1792.5 1636.7"/>
<path class="k" d="M1815 1672.5L1828.8 1680.2L1828.8 1691.1L1830.2 1692.1L1830.2 1699L1828.8 1699.9L1828.8 1711.5L1815 1703.8Z"/>
<path class="t" d="M1815 1703.8L1826 1697.5L1828.8 1699.9"/>
<path class="k" d="M1772.5 1657.5L1781.1 1662.3L1782.5 1660.3L1785.5 1664L1801.2 1673.6L1801.2 1686.6L1772.5 1670.5Z"/>
<path class="t" d="M1772.5 1670.5L1782.5 1664.8L1785.5 1664"/>
<path class="k" d="M1772.5 1698.8L1781.1 1703.6L1782.5 1701.6L1785.5 1705.2L1801.2 1714.8L1801.2 1727.8L1772.5 1711.8Z"/>
<path class="t" d="M1772.5 1711.8L1782.5 1706L1785.5 1705.2"/>
<path class="l" d="M1703.8 1575L1746.2 1594.5"/>
<path class="kf" d="M1721.8 1923L1744.5 1910L1744.5 1906.2L1856.2 1842L1905 1870L1928.8 1912.5L1928.8 1977.5L1816.2 2042L1806.2 2041.2L1806.2 2036.2L1780 2021.2L1780 2016.2L1760 2005L1760 2013.8L1733.8 1998.8L1733.8 1993.8L1721.8 1987Z"/>
<path class="k" d="M1721.8 1923L1743.8 1935.5L1743.8 1910M1745 1906.5L1793.8 1933.8L1793.8 1963.8L1816.2 1977.5L1816.2 2042M1793.8 1933.8L1891.2 1878.8L1905 1870M1891.2 1878.8L1891.2 1910L1793.8 1963.8M1891.2 1878.8L1915 1920L1891.2 1910M1915 1920L1928.8 1912.5M1816.2 1977.5L1915 1920M1749.2 1915L1787.8 1937L1787.8 1949.4L1780.9 1945.2L1780.9 1956.2L1754.8 1941.1L1754.8 1930.1L1749.2 1926.8Z"/>
<path class="t" d="M1754.8 1930.1L1769.9 1921.3M1754.8 1941.1L1776.8 1928.8L1787.8 1935.1M1780.9 1945.2L1787.8 1941.4"/>
<path class="k" d="M1726.2 1935.5L1764.8 1957.5L1764.8 1969.9L1757.9 1965.8L1757.9 1976.8L1731.8 1961.6L1731.8 1950.6L1726.2 1947.3Z"/>
<path class="t" d="M1731.8 1950.6L1746.9 1941.8M1731.8 1961.6L1753.8 1949.2L1764.8 1955.6M1757.9 1965.8L1764.8 1961.9"/>
<path class="k" d="M1726.2 1965L1764.8 1987L1764.8 1999.4L1757.9 1995.2L1757.9 2006.2L1731.8 1991.1L1731.8 1980.1L1726.2 1976.8Z"/>
<path class="t" d="M1731.8 1980.1L1746.9 1971.3M1731.8 1991.1L1753.8 1978.8L1764.8 1985.1M1757.9 1995.2L1764.8 1991.4"/>
<path class="k" d="M1773 1962.5L1811.5 1984.5L1811.5 1996.9L1804.6 1992.8L1804.6 2003.8L1778.5 1988.6L1778.5 1977.6L1773 1974.3Z"/>
<path class="t" d="M1778.5 1977.6L1793.6 1968.8M1778.5 1988.6L1800.5 1976.2L1811.5 1982.6M1804.6 1992.8L1811.5 1988.9"/>
<path class="k" d="M1773 1992.5L1811.5 2014.5L1811.5 2026.9L1804.6 2022.8L1804.6 2033.8L1778.5 2018.6L1778.5 2007.6L1773 2004.3Z"/>
<path class="t" d="M1778.5 2007.6L1793.6 1998.8M1778.5 2018.6L1800.5 2006.2L1811.5 2012.6M1804.6 2022.8L1811.5 2018.9"/>
<path class="l" d="M1698.8 1891.2L1733.8 1908.8"/>
<path class="kf" d="M1774.2 2203.8L1820 2177.5L1911.2 2223.8L1911.2 2235L1906.2 2237.5L1906.2 2246.2L1865 2270L1862.5 2268.8L1816.2 2295L1782.5 2275.5L1782.5 2255L1774.2 2250Z"/>
<path class="k" d="M1774.2 2203.8L1795 2215.5Q1796.2 2208.8 1802.5 2211.2Q1806.2 2213.8 1806.2 2225L1826.2 2232.5L1826.2 2280L1816.2 2277.5L1816.2 2295M1782.5 2255L1816.2 2277.5M1826.2 2232.5L1870 2207.5L1870 2253.8L1826.2 2280M1796.2 2210L1842.5 2183.8Q1848.8 2185 1852.5 2192.5L1806.2 2220M1870 2207.5L1873.8 2205L1873.8 2255L1870 2253.8M1873.8 2255L1906.2 2237.5M1862.5 2251.2L1862.5 2268.8M1820 2177.5L1820 2185"/>
<path class="t" d="M1820 2177.5L1870 2206.2M1823.8 2175.5L1873.8 2204.5M1802.5 2211.2L1847.5 2185M1873.8 2207.5L1895 2220"/>
<path class="k" d="M1778.2 2209.5L1783.9 2212.7L1783.9 2210.2L1788.5 2212.8L1788.5 2215.3L1797 2220L1797 2232L1793.2 2229.9L1793.2 2237.9L1783 2232.1L1783 2228.1L1778.2 2225.5Z"/>
<path class="t" d="M1783 2228.1L1789.5 2224.4L1797 2231.5"/>
<path class="k" d="M1800 2227L1805.6 2230.2L1805.6 2227.7L1810.3 2230.3L1810.3 2232.8L1818.8 2237.5L1818.8 2249.5L1815 2247.4L1815 2255.4L1804.7 2249.6L1804.7 2245.6L1800 2243Z"/>
<path class="t" d="M1804.7 2245.6L1811.2 2241.9L1818.8 2249"/>
<path class="k" d="M1777 2232.5L1782.6 2235.7L1782.6 2233.2L1787.3 2235.8L1787.3 2238.3L1795.8 2243L1795.8 2255L1792 2252.9L1792 2260.9L1781.7 2255.1L1781.7 2251.1L1777 2248.5Z"/>
<path class="t" d="M1781.7 2251.1L1788.2 2247.4L1795.8 2254.5"/>
<path class="k" d="M1796.2 2249.5L1801.9 2252.7L1801.9 2250.2L1806.5 2252.8L1806.5 2255.3L1815 2260L1815 2272L1811.2 2269.9L1811.2 2277.9L1801 2272.1L1801 2268.1L1796.2 2265.5Z"/>
<path class="t" d="M1801 2268.1L1807.5 2264.4L1815 2271.5"/>
<path class="k" d="M1786.2 2262L1791.9 2265.2L1791.9 2262.7L1796.5 2265.3L1796.5 2267.8L1805 2272.5L1805 2284.5L1801.2 2282.4L1801.2 2290.4L1791 2284.6L1791 2280.6L1786.2 2278Z"/>
<path class="t" d="M1791 2280.6L1797.5 2276.9L1805 2284"/>
<path class="kf" d="M1783.8 2137.5L1820 2116.2L1955 2195L1955 2205.5L1916.2 2227L1911.2 2224.5L1911.2 2213.8L1895 2222L1895 2212.5L1806.2 2160L1806.2 2151.2L1792.5 2153.8L1783.8 2148.8Z"/>
<path class="k" d="M1783.8 2137.5L1792.5 2142.5L1792.5 2153.8M1792.5 2142.5L1815 2132.5Q1825 2132 1825.5 2137.5Q1824.5 2143 1815 2144.5L1806.2 2151.2M1806.2 2151.2L1895 2203L1895 2212.5M1895 2203L1911.2 2193.8Q1920 2190 1927.5 2195Q1928.8 2200 1920 2205L1911.2 2210L1911.2 2213.8M1911.2 2213.8L1916.2 2216.2L1916.2 2227M1916.2 2216.2L1955 2195"/>
<path class="t" d="M1792.5 2142.5L1812.5 2134.5M1911.2 2210L1925 2202.5"/>
<path class="l" d="M1697.5 2202L1765 2217"/>
<path class="kf" d="M1729.5 2465L1741.2 2458.8L1741.2 2438.8L1857 2372L1955 2428.8L1955 2462.5L1967.5 2468.8L1967.5 2527.5L1851.2 2595.5L1729.5 2525Z"/>
<path class="k" d="M1741.2 2438.8L1838.8 2495L1838.8 2527.5L1851.2 2535L1851.2 2595.5M1838.8 2495L1955 2428.8M1851.2 2535L1967.5 2468.8M1838.8 2527.5L1955 2462.5M1729.5 2465L1741.2 2472M1741.2 2458.8L1741.2 2472.5"/>
<path class="t" d="M1745 2440.8L1745 2450M1840 2498.8L1953.8 2433.8"/>
<path class="k" d="M1833.8 2428.8L1856.2 2406.2L1880 2420L1880 2428.8L1857.5 2442.5Z"/>
<path class="t" d="M1856.2 2406.2L1857.5 2442.5M1857.5 2442.5L1878.8 2421.2"/>
<path class="k" d="M1747.5 2455L1785.3 2476.6L1785.3 2488.8L1778.5 2484.7L1778.5 2495.5L1752.9 2480.7L1752.9 2469.8L1747.5 2466.6Z"/>
<path class="t" d="M1752.9 2469.8L1767.8 2461.2M1752.9 2480.7L1774.5 2468.5L1785.3 2474.7M1778.5 2484.7L1785.3 2480.9"/>
<path class="k" d="M1795 2482.5L1832.8 2504.1L1832.8 2516.2L1826 2512.2L1826 2523L1800.4 2508.2L1800.4 2497.3L1795 2494.1Z"/>
<path class="t" d="M1800.4 2497.3L1815.2 2488.7M1800.4 2508.2L1822 2496L1832.8 2502.2M1826 2512.2L1832.8 2508.4"/>
<path class="k" d="M1732.5 2489.2L1736.2 2486.2L1757.5 2498.2L1757.5 2517.1L1759.5 2518.4L1759.5 2528.4L1757.5 2527.4L1757.5 2535.8L1736.2 2523.8L1736.2 2515.5L1732.5 2512.5Z"/>
<path class="t" d="M1736.2 2515.5L1753.8 2505L1757.5 2517.1M1736.2 2523.8L1750 2515.8M1732.5 2489.2L1737.5 2492"/>
<path class="k" d="M1761.8 2506L1765.5 2503L1786.8 2515L1786.8 2533.9L1788.8 2535.1L1788.8 2545.1L1786.8 2544.1L1786.8 2552.5L1765.5 2540.5L1765.5 2532.2L1761.8 2529.2Z"/>
<path class="t" d="M1765.5 2532.2L1783 2521.8L1786.8 2533.9M1765.5 2540.5L1779.2 2532.5M1761.8 2506L1766.8 2508.8"/>
<path class="k" d="M1791.2 2522.5L1795 2519.5L1816.2 2531.5L1816.2 2550.4L1818.2 2551.6L1818.2 2561.6L1816.2 2560.6L1816.2 2569L1795 2557L1795 2548.8L1791.2 2545.8Z"/>
<path class="t" d="M1795 2548.8L1812.5 2538.2L1816.2 2550.4M1795 2557L1808.8 2549M1791.2 2522.5L1796.2 2525.2"/>
<path class="k" d="M1820.5 2539.2L1824.2 2536.2L1845.5 2548.2L1845.5 2567.1L1847.5 2568.4L1847.5 2578.4L1845.5 2577.4L1845.5 2585.8L1824.2 2573.8L1824.2 2565.5L1820.5 2562.5Z"/>
<path class="t" d="M1824.2 2565.5L1841.8 2555L1845.5 2567.1M1824.2 2573.8L1838 2565.8M1820.5 2539.2L1825.5 2542"/>
<path class="l" d="M1693.8 2428L1730 2445.5"/>
<path class="kf" d="M2220 422.5L2229.5 417L2345.5 483.8L2345.5 504.5L2338.8 507.5Q2331.2 510 2332 515Q2334.5 520 2340 518L2345.5 515.5L2345.5 532.5L2336.2 538L2220 471.2Z"/>
<path class="k" d="M2220 422.5L2336.2 489.5L2336.2 538M2336.2 489.5L2345.5 483.8M2336.2 507.5L2338.8 507.5M2336.2 520L2340 518"/>
<path class="kf" d="M2170.5 473.8L2205 455L2205 450.5L2220 442.5L2320 486.2L2320 528.8L2255.5 563.8L2170.5 515Z"/>
<path class="k" d="M2170.5 473.8L2255.5 522.5L2255.5 563.8M2255.5 522.5L2320 486.2M2205 455L2212.5 458.8M2180 479.5L2180 473.8L2207.5 458.8M2250 519.5L2250 515L2282.5 496.2L2290 500.5L2290 505"/>
<path class="t" d="M2181.2 475L2210 459.5M2282.5 496.2L2282.5 500.5M2251.2 517L2283.8 498.8"/>
<path class="k" d="M2175 479.5L2197 491.8L2197 506.3L2193.7 504.5L2193.7 501.5L2178.3 492.9L2178.3 495.9L2175 494Z"/>
<path class="t" d="M2178.3 492.9L2188.2 487.1L2197 499.1M2181.6 492.9L2190.4 487.9"/>
<path class="k" d="M2202 494.5L2224 506.8L2224 521.3L2220.7 519.5L2220.7 516.5L2205.3 507.9L2205.3 510.9L2202 509Z"/>
<path class="t" d="M2205.3 507.9L2215.2 502.1L2224 514.1M2208.6 507.9L2217.4 502.9"/>
<path class="k" d="M2228 509.5L2250 521.8L2250 536.3L2246.7 534.5L2246.7 531.5L2231.3 522.9L2231.3 525.9L2228 524Z"/>
<path class="t" d="M2231.3 522.9L2241.2 517L2250 529.1M2234.6 522.9L2243.4 517.9"/>
<path class="k" d="M2175 500L2197 512.3L2197 526.8L2193.7 525L2193.7 522L2178.3 513.4L2178.3 516.4L2175 514.5Z"/>
<path class="t" d="M2178.3 513.4L2188.2 507.6L2197 519.6M2181.6 513.4L2190.4 508.4"/>
<path class="k" d="M2202 515L2224 527.3L2224 541.8L2220.7 540L2220.7 537L2205.3 528.4L2205.3 531.4L2202 529.5Z"/>
<path class="t" d="M2205.3 528.4L2215.2 522.5L2224 534.6M2208.6 528.4L2217.4 523.4"/>
<path class="k" d="M2228 530L2250 542.3L2250 556.8L2246.7 555L2246.7 552L2231.3 543.4L2231.3 546.4L2228 544.5Z"/>
<path class="t" d="M2231.3 543.4L2241.2 537.5L2250 549.6M2234.6 543.4L2243.4 538.4"/>
<path class="l" d="M2118 453.8L2162.5 471.2"/>
<path class="kf" d="M2155.5 673L2233.8 628L2295 650L2360 697.5L2360 740L2280 786.2L2155.5 722.5Z"/>
<path class="k" d="M2155.5 673L2217 705Q2217 697.5 2221.2 696.2Q2226.2 698.8 2227 706.2L2227 713.8L2280 742.5L2280 786.2M2221.2 696.2L2283.8 657.5Q2290 659.5 2291.2 668.8L2227 710M2280 742.5L2360 697.5M2291.2 668.8L2348.8 708.8"/>
<path class="t" d="M2230 631.2L2286.2 658M2233.8 628L2292.5 653.8L2350 703M2280.5 745.5L2360 700.5M2295 650L2291.2 660"/>
<path class="k" d="M2158.8 680L2183.8 694L2183.8 701.5L2179.2 699L2179.2 705.2L2162.5 695.9L2162.5 689L2158.8 686.9Z"/>
<path class="t" d="M2162.5 695.9L2172.5 691.2L2179.2 699M2162.5 689L2170 685.6"/>
<path class="k" d="M2190 696.2L2215 710.2L2215 717.8L2210.5 715.3L2210.5 721.5L2193.8 712.1L2193.8 705.2L2190 703.1Z"/>
<path class="t" d="M2193.8 712.1L2203.8 707.5L2210.5 715.3M2193.8 705.2L2201.2 701.9"/>
<path class="k" d="M2221.2 722.5L2246.2 736.5L2246.2 744L2241.8 741.5L2241.8 747.7L2225 738.4L2225 731.5L2221.2 729.4Z"/>
<path class="t" d="M2225 738.4L2235 733.8L2241.8 741.5M2225 731.5L2232.5 728.1"/>
<path class="k" d="M2252.5 739.5L2277.5 753.5L2277.5 761L2273 758.5L2273 764.7L2256.2 755.4L2256.2 748.5L2252.5 746.4Z"/>
<path class="t" d="M2256.2 755.4L2266.2 750.8L2273 758.5M2256.2 748.5L2263.8 745.1"/>
<path class="k" d="M2158.8 703L2183.8 717L2183.8 723.3L2179.2 720.8L2179.2 726L2162.5 716.6L2162.5 710.9L2158.8 708.8Z"/>
<path class="t" d="M2162.5 716.6L2172.5 712L2179.2 720.8M2162.5 710.9L2170 707.5"/>
<path class="k" d="M2190 719.2L2215 733.2L2215 739.6L2210.5 737L2210.5 742.2L2193.8 732.9L2193.8 727.1L2190 725Z"/>
<path class="t" d="M2193.8 732.9L2203.8 728.2L2210.5 737M2193.8 727.1L2201.2 723.8"/>
<path class="k" d="M2221.2 744.5L2246.2 758.5L2246.2 764.8L2241.8 762.3L2241.8 767.5L2225 758.1L2225 752.4L2221.2 750.2Z"/>
<path class="t" d="M2225 758.1L2235 753.5L2241.8 762.3M2225 752.4L2232.5 749"/>
<path class="k" d="M2252.5 760.8L2277.5 774.8L2277.5 781.1L2273 778.5L2273 783.7L2256.2 774.4L2256.2 768.6L2252.5 766.5Z"/>
<path class="t" d="M2256.2 774.4L2266.2 769.8L2273 778.5M2256.2 768.6L2263.8 765.2"/>
<path class="l" d="M2117 649.5L2157.5 662.5"/>
<path class="kf" d="M2145 925Q2145.5 921.2 2148.8 920L2190 896.2L2190 882.5L2233.8 858L2286.2 887.5Q2293.8 882.5 2301.2 886.2Q2307.5 891.2 2308.8 900L2366.2 932.5Q2370 935 2370 938.8L2370 997.5L2327.5 1022L2322.5 1020L2317.5 1017L2273.8 1039.5L2270 1038.8L2237.5 1020.5L2237.5 1026.2L2225 1020L2225 1013.8L2206.2 1003L2206.2 1008.8L2192.5 1001.2L2192.5 995L2176.2 986.2L2176.2 980L2148.8 965Q2145 962.5 2145 958.8Z"/>
<path class="k" d="M2148.8 920L2176.2 935L2176.2 940L2182.5 943L2210 958L2210 962.5L2215 965L2240 978L2240 982L2245.5 984.5L2272.5 998Q2275.5 1000 2275 1003.8L2275 1039.5M2148.8 920L2196.2 893.8L2223.8 907.5L2223.8 913.8L2176.2 940M2182.5 943L2227.5 917L2255 932L2255 937.5L2210 962.5M2215 965L2257.5 940L2285 955L2285 960.5L2240 982M2245.5 984.5L2292.5 957.5L2322.5 972.5L2322.5 1020M2273.8 998.8L2322.5 972.5M2190 882.5L2240 910L2248.8 908.8Q2255 905 2261.2 910Q2266.2 915 2267.5 923.8L2272.5 927L2322.5 955Q2327.5 958 2327.5 962.5L2327.5 1022M2248.8 908.8L2295 883.8M2272.5 926.2L2308.8 905M2327.5 960L2368.8 936.2M2190 896.2L2196.2 893.8"/>
<path class="t" d="M2267.5 923.8L2307.5 900M2261.2 910L2301.2 886.2M2325 957.5L2325 1020M2223.8 913.8L2227.5 917M2255 937.5L2257.5 940M2285 960.5L2292.5 957.5"/>
<path class="k" d="M2150 928.8L2156.2 932.2L2156.2 928L2162.5 931.5L2162.5 935.8L2175 942.8L2175 953.4L2171.2 951.3L2171.2 957.6L2157.5 950L2157.5 945.7L2150 941.5Z"/>
<path class="t" d="M2157.5 945.7L2165 942L2175 948M2157.5 950L2163.8 950"/>
<path class="k" d="M2181.2 947.2L2187.5 950.8L2187.5 946.5L2193.8 950L2193.8 954.2L2206.2 961.2L2206.2 971.9L2202.5 969.8L2202.5 976.1L2188.8 968.5L2188.8 964.2L2181.2 960Z"/>
<path class="t" d="M2188.8 964.2L2196.2 960.5L2206.2 966.5M2188.8 968.5L2195 968.5"/>
<path class="k" d="M2212.5 965.5L2218.8 969L2218.8 964.8L2225 968.2L2225 972.5L2237.5 979.5L2237.5 990.1L2233.8 988L2233.8 994.4L2220 986.7L2220 982.5L2212.5 978.2Z"/>
<path class="t" d="M2220 982.5L2227.5 978.8L2237.5 984.8M2220 986.7L2226.2 986.8"/>
<path class="k" d="M2243.8 983.8L2250 987.2L2250 983L2256.2 986.5L2256.2 990.8L2268.8 997.8L2268.8 1008.4L2265 1006.3L2265 1012.6L2251.2 1005L2251.2 1000.7L2243.8 996.5Z"/>
<path class="t" d="M2251.2 1000.7L2258.8 997L2268.8 1003M2251.2 1005L2257.5 1005"/>
<path class="k" d="M2150 954.2L2156.2 957.8L2156.2 953.5L2162.5 957L2162.5 961.2L2175 968.2L2175 978.9L2171.2 976.8L2171.2 983.1L2157.5 975.5L2157.5 971.2L2150 967Z"/>
<path class="t" d="M2157.5 971.2L2165 967.5L2175 973.5M2157.5 975.5L2163.8 975.5"/>
<path class="k" d="M2181.2 973L2187.5 976.5L2187.5 972.2L2193.8 975.8L2193.8 980L2206.2 987L2206.2 997.6L2202.5 995.5L2202.5 1001.9L2188.8 994.2L2188.8 990L2181.2 985.8Z"/>
<path class="t" d="M2188.8 990L2196.2 986.2L2206.2 992.3M2188.8 994.2L2195 994.2"/>
<path class="k" d="M2212.5 991.2L2218.8 994.8L2218.8 990.5L2225 994L2225 998.2L2237.5 1005.2L2237.5 1015.9L2233.8 1013.8L2233.8 1020.1L2220 1012.5L2220 1008.2L2212.5 1004Z"/>
<path class="t" d="M2220 1008.2L2227.5 1004.5L2237.5 1010.5M2220 1012.5L2226.2 1012.5"/>
<path class="k" d="M2243.8 1009.8L2250 1013.2L2250 1009L2256.2 1012.5L2256.2 1016.8L2268.8 1023.8L2268.8 1034.4L2265 1032.3L2265 1038.7L2251.2 1031L2251.2 1026.7L2243.8 1022.5Z"/>
<path class="t" d="M2251.2 1026.7L2258.8 1023L2268.8 1029M2251.2 1031L2257.5 1031"/>
<path class="l" d="M2118 881.2L2161.2 903"/>
<path class="kf" d="M2165 1177.5L2180 1146.2L2255 1102.5L2262.5 1101.2L2272.5 1120L2276.2 1117.5L2310 1136.2L2308.8 1142.5L2325 1140L2342.5 1182.5L2338.8 1192.5L2342.5 1197.5L2336.2 1230L2252.5 1277.5L2248.8 1273.8L2233.8 1252.5L2200 1231.2L2180 1225L2165 1182.5Z"/>
<path class="k" d="M2165 1177.5L2170 1186.2L2180 1190L2190 1175L2200 1162.5L2190 1148.8L2180 1146.2M2190 1148.8L2265 1105.5M2165 1182.5L2180 1190L2195 1222.5L2180 1225M2195 1222.5L2200 1231.2M2198.8 1162.5L2233.8 1181.2L2233.8 1202.5L2198.8 1183.8ZM2202.5 1168.8L2230 1183.8L2230 1197.5L2202.5 1182.5ZM2198.8 1162.5L2275 1118.8M2233.8 1181.2L2310 1136.2M2233.8 1202.5L2247.5 1195M2198.8 1205L2233.8 1225L2233.8 1247.5L2198.8 1228.8ZM2202.5 1211.2L2230 1227L2230 1242L2202.5 1226.2ZM2198.8 1205L2212.5 1197.5M2233.8 1190L2247.5 1186.2L2262.5 1225L2257.5 1233.8L2237.5 1196.2M2247.5 1186.2L2325 1141.2M2262.5 1225L2342.5 1182.5M2257.5 1233.8L2338.8 1192.5M2233.8 1252.5L2257.5 1235L2262.5 1238.8L2252.5 1277.5M2262.5 1238.8L2342.5 1197.5M2233.8 1247.5L2240 1243.8M2190 1175L2200 1190L2195 1222.5M2200 1190L2212.5 1197.5L2233.8 1210"/>
<path class="t" d="M2172.5 1182.5L2187.5 1173.8M2202.5 1182.5L2215 1175.5L2230 1183.8M2202.5 1226.2L2215 1219.5L2230 1227.5M2237.5 1200L2320 1152.5M2240 1255L2257.5 1242.5M2180 1146.2L2187.5 1152.5L2180 1167.5M2240 1192.5L2311.2 1151.2"/>
<path class="l" d="M2121.2 1131.2L2165.8 1152.5"/>
<path class="kf" d="M2120 1477.5Q2120.5 1473 2125 1471.2L2140 1463.8L2140 1456.2Q2141.2 1452.5 2145 1451.8L2248.8 1393L2255 1396.2L2321.2 1355.8L2332.5 1361.2L2332.5 1367.5L2357.5 1376.2L2367.5 1382.5Q2371.2 1385.5 2371.2 1390L2371.2 1430L2390 1440Q2394.5 1443 2394.5 1447.5L2394.5 1477.5L2327.5 1517.5L2326.2 1520L2223.8 1580L2218.8 1581.2L2125 1527.5Q2120 1524.5 2120 1520Z"/>
<path class="k" d="M2125.5 1480L2125.5 1521.2L2217.5 1573.8L2217.5 1536.2M2125 1471.2L2140 1480L2140 1463.8M2145 1467.5L2145 1487.5L2126.2 1480M2140 1480L2145 1482.5M2223.8 1538.8L2223.8 1580M2197.5 1506.2L2197.5 1520L2215 1530Q2223.8 1532.5 2223.8 1538.8M2140 1456.2L2193.8 1486.2Q2200 1490 2202.5 1495L2202.5 1500L2197.5 1506.2M2193.8 1486.2L2305 1422.5M2202.5 1495L2306.2 1435M2197.5 1506.2L2246.2 1478.8L2246.2 1485L2206.2 1508.8M2223.8 1537.5L2326.2 1478.8L2326.2 1520M2215 1530L2315 1472.5Q2322.5 1468 2326.2 1470.5L2326.2 1480M2175 1451.2L2255 1405L2275 1422.5L2196.2 1467.5ZM2305 1422.5Q2307 1424.5 2307 1428.8L2307.5 1456.2L2315 1460M2255 1396.2L2332.5 1361.2M2275 1422.5L2357.5 1376.2M2326.2 1470.5L2390 1440M2327.5 1480L2394.5 1450"/>
<path class="t" d="M2125.5 1521.2L2190 1485M2145 1487.5L2190 1512.5M2180 1453.8L2257.5 1408.8M2225 1445L2225 1451.2M2245 1417.5L2245 1435M2250 1418.8L2250 1426.2L2257.5 1430L2257.5 1422.5M2202.5 1500L2306.2 1439.5M2312.5 1456.2L2370 1425M2307.5 1440L2371.2 1403.8M2220 1576.2L2220 1537.5"/>
<path class="l" d="M2123.8 1401.2L2167.5 1423"/>
<path class="kf" d="M2092 1796.2L2092 1806.2L2094.5 1808L2094.5 1855Q2095 1860 2100 1862.5L2133.8 1882L2133.8 1888.8L2190 1921.2L2195 1919.5L2225 1935L2230 1935.5L2290 1897.5L2291.2 1883.8L2347.5 1852.5Q2351.2 1850 2351.2 1845L2351.2 1800Q2350 1795 2345 1790L2338.8 1783.8L2338.8 1757.5Q2337.5 1752.5 2333.8 1750L2292.5 1726.2L2283.8 1731.2L2283.8 1721.2L2242.5 1697.5L2185 1730L2171.2 1725L2107.5 1761.2L2107 1787.5Z"/>
<path class="k" d="M2100 1810L2100 1855L2225 1927.5L2225 1870M2230 1867.5L2230 1935.5M2190 1807.5L2212.5 1820Q2218.8 1823.8 2218.8 1830L2218.8 1852.5L2230 1867.5M2230 1867.5L2290 1833.8L2290 1897.5M2212.5 1820L2275 1785Q2278.8 1787.5 2280 1792.5L2280 1815Q2282.5 1825 2290 1830.5L2291.2 1883.8M2280 1790L2338.8 1757.5M2290 1832.5L2351.2 1800M2283.8 1731.2L2227.5 1762.5M2185 1730L2203.8 1740M2218.8 1852.5L2225 1870"/>
<path class="kf" d="M2092 1796.2L2196.2 1733.8L2203.8 1737.5L2203.8 1742.5L2250 1766.2L2250 1771.2L2147.5 1835L2146.2 1836.2L2094.5 1808L2092 1806.2Z"/>
<path class="k" d="M2203.8 1742.5L2100 1802.5L2140 1826.2L2140 1830L2146.2 1828.8L2250 1766.2M2100 1802.5L2094.5 1800M2122.5 1798.8L2202.5 1752.5L2227.5 1767.5L2148.8 1813.8ZM2146.2 1828.8L2146.2 1836.2"/>
<path class="t" d="M2100 1855L2170 1815M2127.5 1800L2203.8 1756.2M2202.5 1752.5L2202.5 1760L2222.5 1771.2M2162.5 1786.2L2162.5 1800L2177.5 1808.8M2167.5 1782.5L2167.5 1790L2176.2 1795L2176.2 1787.5M2220 1835L2280 1800L2338.8 1767.5M2221.2 1850L2280 1816.2L2343.8 1780M2192.5 1815L2192.5 1837.5L2212.5 1848.8M2197.5 1830L2205 1826.2L2205 1840"/>
<path class="l" d="M2122.5 1693.8L2167 1715.5"/>
<path class="kf" d="M2178.5 2077.3L2198.7 2065.6L2222 2060.2L2226.6 2061.7L2245.3 2071.8L2249.9 2072.6L2282.5 2090L2286.4 2093.6L2330.7 2126.2L2341.6 2131.6L2360.2 2154.1L2361 2158L2357.1 2162.7L2361 2168.9L2357.1 2176.6L2332.2 2192.2L2319.8 2198.4L2307.4 2199.9L2304.3 2206.1L2282.5 2220.1Q2274.8 2220.9 2268.6 2213.1L2229.8 2147.1L2198.7 2120.7Z"/>
<path class="k" d="M2305.1 2147.1L2330.7 2126.2M2305.1 2147.1Q2315.2 2158 2318.3 2173.5Q2321.4 2189.1 2319.8 2198.4M2310.5 2151.8Q2322.9 2164.2 2326 2179.8L2332.2 2192.2M2326 2179.8L2357.1 2162.7M2332.2 2175.1L2346.2 2168.9L2347.8 2172L2333 2183.6ZM2312 2176.6L2312 2184.4L2316.7 2182.9M2312 2176.6L2316.7 2174.3M2192.5 2075.7L2197.1 2073.4L2208 2078.8L2203.4 2081.6ZM2203.4 2081.6L2208 2078.8L2222 2063.3L2225.1 2064.8L2218.9 2078M2208 2078.8L2215.8 2070.3M2218.9 2078L2226.6 2082.7L2245.3 2071.8M2217.3 2092.8L2249.9 2075.7L2254.6 2078.8Q2251.5 2082.7 2253.8 2086.6L2249.9 2089.7L2245.3 2094.3M2225.1 2101.3L2245.3 2094.3L2245.3 2099L2248.4 2100.6L2278.7 2089.7L2286.4 2093.6M2278.7 2089.7L2282.5 2090M2267 2103.7L2281 2096.7Q2282.5 2102.1 2286.4 2106.8L2288.8 2120.7L2298.1 2126.2L2298.1 2133.2L2305.1 2137L2305.1 2147.1M2298.1 2133.2L2307.4 2128.5L2326 2124.6L2329.1 2126.2L2313.6 2139.4L2305.1 2137M2307.4 2128.5L2326 2127"/>
<path class="kf" d="M2104.8 2137L2149 2115.3L2229.8 2147.1L2275.6 2172.8L2275.6 2196.8L2268.6 2213.1L2222 2239.5L2107.9 2175.1L2107.9 2158L2103.7 2154.9L2103.7 2139.4Z"/>
<path class="k" d="M2104.8 2137L2220.4 2201.5Q2225.1 2203.8 2225.9 2208.5L2225.9 2224.8L2222 2225.6L2222 2239.5M2223.5 2203L2275.6 2172.8M2225.9 2224.8L2274.8 2196.8M2103.7 2154.9L2107.9 2155.7M2107.9 2158L2107.9 2155.7M2113.3 2147.1L2123.4 2153L2123.4 2165.8L2127.6 2168.1L2127.6 2173.9L2113.3 2165.8L2113.3 2161.9L2113.3 2147.1Z"/>
<path class="t" d="M2113.3 2161.9L2121.1 2157.7L2123.4 2159.3M2121.1 2157.7L2121.1 2151.8"/>
<path class="k" d="M2142.8 2164.2L2152.9 2170.1L2152.9 2182.9L2157.1 2185.2L2157.1 2190.9L2142.8 2182.9L2142.8 2179L2142.8 2164.2Z"/>
<path class="t" d="M2142.8 2179L2150.6 2174.8L2152.9 2176.3M2150.6 2174.8L2150.6 2168.9"/>
<path class="k" d="M2173.1 2181.3L2183.2 2187.2L2183.2 2199.9L2187.4 2202.3L2187.4 2208L2173.1 2199.9L2173.1 2196.1L2173.1 2181.3Z"/>
<path class="t" d="M2173.1 2196.1L2180.8 2191.9L2183.2 2193.4M2180.8 2191.9L2180.8 2186"/>
<path class="k" d="M2203.4 2198.4L2213.4 2204.3L2213.4 2217L2217.6 2219.3L2217.6 2225.1L2203.4 2217L2203.4 2213.1L2203.4 2198.4Z"/>
<path class="t" d="M2203.4 2213.1L2211.1 2208.9L2213.4 2210.5M2211.1 2208.9L2211.1 2203"/>
<path class="k" d="M2132.2 2161.1Q2134.1 2157.7 2136.9 2161.9L2136.9 2181.3Q2135.3 2184.4 2132.2 2179.8ZM2162.2 2178.2Q2164.1 2174.8 2166.9 2179L2166.9 2198.4Q2165.3 2201.5 2162.2 2196.8ZM2192.5 2195.3Q2194.3 2191.9 2197.1 2196.1L2197.1 2215.5Q2195.6 2218.6 2192.5 2213.9Z"/>
<path class="w" d="M2232.1 2147.1L2260 2132.4L2305.1 2158L2305.1 2204.6L2282.5 2220.1Q2274.8 2220.9 2268.6 2213.1L2275.6 2196.8L2275.6 2172.8Z"/>
<path class="k" d="M2232.1 2147.1L2270.9 2169.7Q2276.3 2172.8 2277.1 2179L2277.1 2206.9Q2276.3 2212.4 2272.5 2213.6M2237.7 2144.2L2276.5 2166.7Q2281.9 2169.8 2282.7 2176L2282.7 2205.4Q2281.9 2210.8 2278 2212M2243.3 2141.2L2282.1 2163.8Q2287.5 2166.9 2288.3 2173.1L2288.3 2204Q2287.5 2209.4 2283.6 2210.7M2248.9 2138.3L2287.7 2160.8Q2293.1 2163.9 2293.9 2170.1L2293.9 2202.4Q2293.1 2207.9 2289.2 2209.1M2254.4 2135.3L2293.3 2157.9Q2298.7 2161 2299.5 2167.2L2299.5 2201Q2298.7 2206.5 2294.8 2207.7M2260 2132.4L2298.9 2154.9Q2304.3 2158 2305.1 2164.2L2305.1 2199.5Q2304.3 2204.9 2300.4 2206.1M2268.6 2213.1Q2274.8 2220.9 2282.5 2220.1L2304.3 2206.1"/>
<path class="kf" d="M2148.2 2083.5L2165.3 2072.6L2222 2104.4L2226.6 2111.4L2232.9 2121.5L2239.1 2124.6L2239.1 2130.8L2245.3 2129.3L2207.2 2158L2201 2154.1L2201 2119.2L2156 2094.3L2156 2128.5L2148.2 2124.6Z"/>
<path class="k" d="M2148.2 2083.5L2207.2 2116.1L2207.2 2158M2207.2 2116.1L2222 2108.3L2222 2104.4M2222 2108.3L2226.6 2111.4M2156 2094.3L2156 2091.2M2201 2119.2L2197.1 2120.7L2197.1 2124.6M2177 2111.4L2177 2116.1L2197.1 2124.6M2239.1 2130.8L2274.8 2111.4Q2277.9 2109.9 2280.2 2111.4M2239.1 2124.6L2267 2109.1M2232.9 2121.5L2236.7 2119.2"/>
<path class="t" d="M2180.1 2113L2197.1 2120.7M2225.1 2102.1L2236 2097.5M2229.8 2094.3L2229.8 2099.8L2246.8 2092.8"/>
<path class="l" d="M2118.7 2045.4L2162.5 2067"/>
<path class="kf" d="M2043.8 2478.8Q2045 2465 2060 2458.8L2106.2 2449.5L2165 2413.8L2215 2388.8L2215 2375Q2217.5 2363.8 2235 2350L2245 2341.2Q2252.5 2337.5 2262.5 2338.8L2410 2425Q2417.5 2430 2418.8 2440L2418.8 2457.5L2420 2465L2418.8 2490Q2416.2 2498.8 2406.2 2500L2387.5 2502.5Q2380 2500 2377.5 2492.5L2375 2485L2235 2565L2213.8 2590L2213.8 2598.8Q2212.5 2606.2 2205 2610Q2190 2617.5 2165 2605L2085 2552.5Q2047.5 2525 2043.8 2500Z"/>
<path class="k" d="M2215 2388.8L2222.5 2385L2222.5 2377.5Q2225 2368.8 2240 2358.8L2256.2 2347.5Q2262.5 2345 2270 2347.5L2400 2425Q2407.5 2430 2407.5 2437.5M2262.5 2375L2365 2435L2385 2423.8Q2392.5 2422.5 2396.2 2427.5L2380 2460Q2375 2470 2373.8 2480L2377.5 2492.5M2260 2368.8L2262.5 2375L2227.5 2387.5L2227.5 2383.8L2260 2368.8L2363.8 2430L2363.8 2435M2407.5 2437.5L2385 2472.5L2385 2497.5M2387.5 2475L2410 2463.8L2412.5 2466.2L2387.5 2488.8ZM2418.8 2457.5L2410 2463.8M2385 2472.5L2377.5 2476.2"/>
<path class="t" d="M2256.2 2347.5Q2275 2350 2278.8 2357.5L2262.5 2368.8M2385 2423.8Q2392.5 2430 2395 2440M2390 2477.5L2407.5 2467.5"/>
<path class="k" d="M2165 2413.8L2256.2 2368.8M2106.2 2449.5L2160 2422.5M2195 2492.5L2375 2480M2195 2492.5L2235 2565M2185 2492.5L2195 2492.5M2235 2540L2370 2462.5M2215 2507.5L2365 2430"/>
<path class="t" d="M2172.5 2417.5L2237.5 2398.8L2330 2451.2L2267.5 2486.2L2220 2462.5M2262.5 2412.5L2290 2397.5M2295 2430L2317.5 2417.5M2322.5 2447.5L2345 2435M2267.5 2486.2L2281.2 2500Q2282.5 2512.5 2280 2517.5L2236.2 2540M2220 2462.5L2217.5 2507.5M2170 2415L2255 2372.5"/>
<path class="kf" d="M2137.5 2460L2176.2 2438.8L2176.2 2425L2182.5 2419.5L2215 2437.5L2215 2480L2195 2492.5L2185 2492.5L2185 2486.2L2147.5 2497.5L2137.5 2492.5Z"/>
<path class="k" d="M2137.5 2460L2147.5 2465L2147.5 2497.5M2147.5 2465L2185 2443.8L2176.2 2438.8M2151.2 2465L2175 2460L2175 2470L2151.2 2472.5ZM2185 2443.8L2195 2436.2L2205 2442.5L2192.5 2481.2L2185 2477.5L2196.2 2442.5M2182.5 2419.5L2182.5 2427.5L2215 2445M2176.2 2425L2195 2436.2"/>
<path class="t" d="M2170 2456.2L2170 2462.5M2117.5 2452.5L2160 2430L2170 2435M2095 2460L2157.5 2427.5"/>
<path class="kf" d="M2043.8 2478.8Q2045 2465 2060 2458.8L2092.5 2453.8L2106.2 2449.5L2110 2460L2093.8 2468L2093.8 2481.2L2162.5 2520L2162.5 2510.5L2170 2509.5Q2185 2507.5 2200 2520Q2220 2540 2213.8 2590L2213.8 2598.8Q2212.5 2606.2 2205 2610Q2190 2617.5 2165 2605L2085 2552.5Q2047.5 2525 2043.8 2500L2043.8 2493.8L2053.8 2493.8L2053.8 2485L2043.8 2485Z"/>
<path class="k" d="M2063.8 2490Q2064.5 2480.5 2075.5 2481.2L2182.5 2542.5Q2192.5 2550 2191.2 2560L2190 2582.5Q2187.5 2592.5 2177.5 2588.8L2077.5 2530Q2063.8 2520 2063.8 2507.5ZM2202.5 2575L2212.5 2575M2202.5 2586.2L2213.8 2586.2M2202.5 2575L2202.5 2586.2"/>
<path class="t" d="M2095 2497.5Q2097.5 2502.5 2107.5 2508.8L2185 2552.5M2097.5 2492.5L2185 2543.8M2060 2458.8L2092.5 2472.5M2072.5 2457L2093.8 2468M2170 2509.5L2185 2520L2190 2540M2200 2520L2222.5 2507.5Q2235 2525 2235 2550L2213.8 2570M2185 2515L2205 2503.8M2123.8 2565L2123.8 2571.2L2131.2 2575L2131.2 2568.8ZM2127.5 2567L2127.5 2573"/>
<path class="l" d="M2120 2388L2165 2409.5"/>
</g>
<g id="nums" transform="scale(0.64 1)">
<text x="921.1" y="449">1</text>
<text x="921.1" y="625">2</text>
<text x="921.9" y="763.5">3</text>
<text x="921.1" y="954">4</text>
<text x="921.1" y="1113.7">5</text>
<text x="921.1" y="1304">6</text>
<text x="921.1" y="1488.7">7</text>
<text x="921.1" y="1629.5">8</text>
<text x="921.9" y="1804">9</text>
<text x="933.6" y="2012.2">10</text>
<text x="927.8" y="2212.2">11</text>
<text x="929.7" y="2366.2">12</text>
<text x="930.9" y="2542.5">13</text>
<text x="1506.6" y="437.5">14</text>
<text x="1507.8" y="599.5">15</text>
<text x="1507" y="766.7">16</text>
<text x="1507" y="990.3">17</text>
<text x="1496.9" y="1176.7">18</text>
<text x="1496.9" y="1335">19</text>
<text x="1496.1" y="1521.7">20</text>
<text x="1500.5" y="1731.3">21</text>
<text x="1496.1" y="1885.8">22</text>
<text x="1496.1" y="2097.5">23</text>
<text x="1496.1" y="2296.7">24</text>
<text x="1530" y="2519.2">25</text>
<text x="2023.4" y="435.8">26</text>
<text x="2007.8" y="664.2">27</text>
<text x="2003.9" y="905">28</text>
<text x="2001.6" y="1216">29</text>
<text x="2005.9" y="1473">30</text>
<text x="2000" y="1727">31</text>
<text x="2001.6" y="1962">32</text>
<text x="2017.2" y="2188">33</text>
<text x="2061.7" y="2451">34</text>
<text x="2649.2" y="453.8">35</text>
<text x="2636.7" y="715">36</text>
<text x="2638.8" y="998.8">37</text>
<text x="2623.1" y="1291.8">38</text>
<text x="2630.9" y="1577.5">39</text>
<text x="2625" y="1893.8">40</text>
<text x="2621.9" y="2205.8">41</text>
<text x="2618.8" y="2429.5">42</text>
<text x="3278.1" y="457.5">43</text>
<text x="3278.1" y="655.8">44</text>
<text x="3278.1" y="881.3">45</text>
<text x="3282.5" y="1136.3">46</text>
<text x="3287.2" y="1403.8">47</text>
<text x="3282.8" y="1695.8">48</text>
<text x="3281.2" y="2055.5">49</text>
<text x="3279.4" y="2388">50</text>
</g>
</svg>
<div class="foot">Beginning S/N 154257<br>Use only genuine <b>Walker</b><sup>&reg;</sup> replacement parts.</div>
<div class="pg">27</div>
</body>
</html>
